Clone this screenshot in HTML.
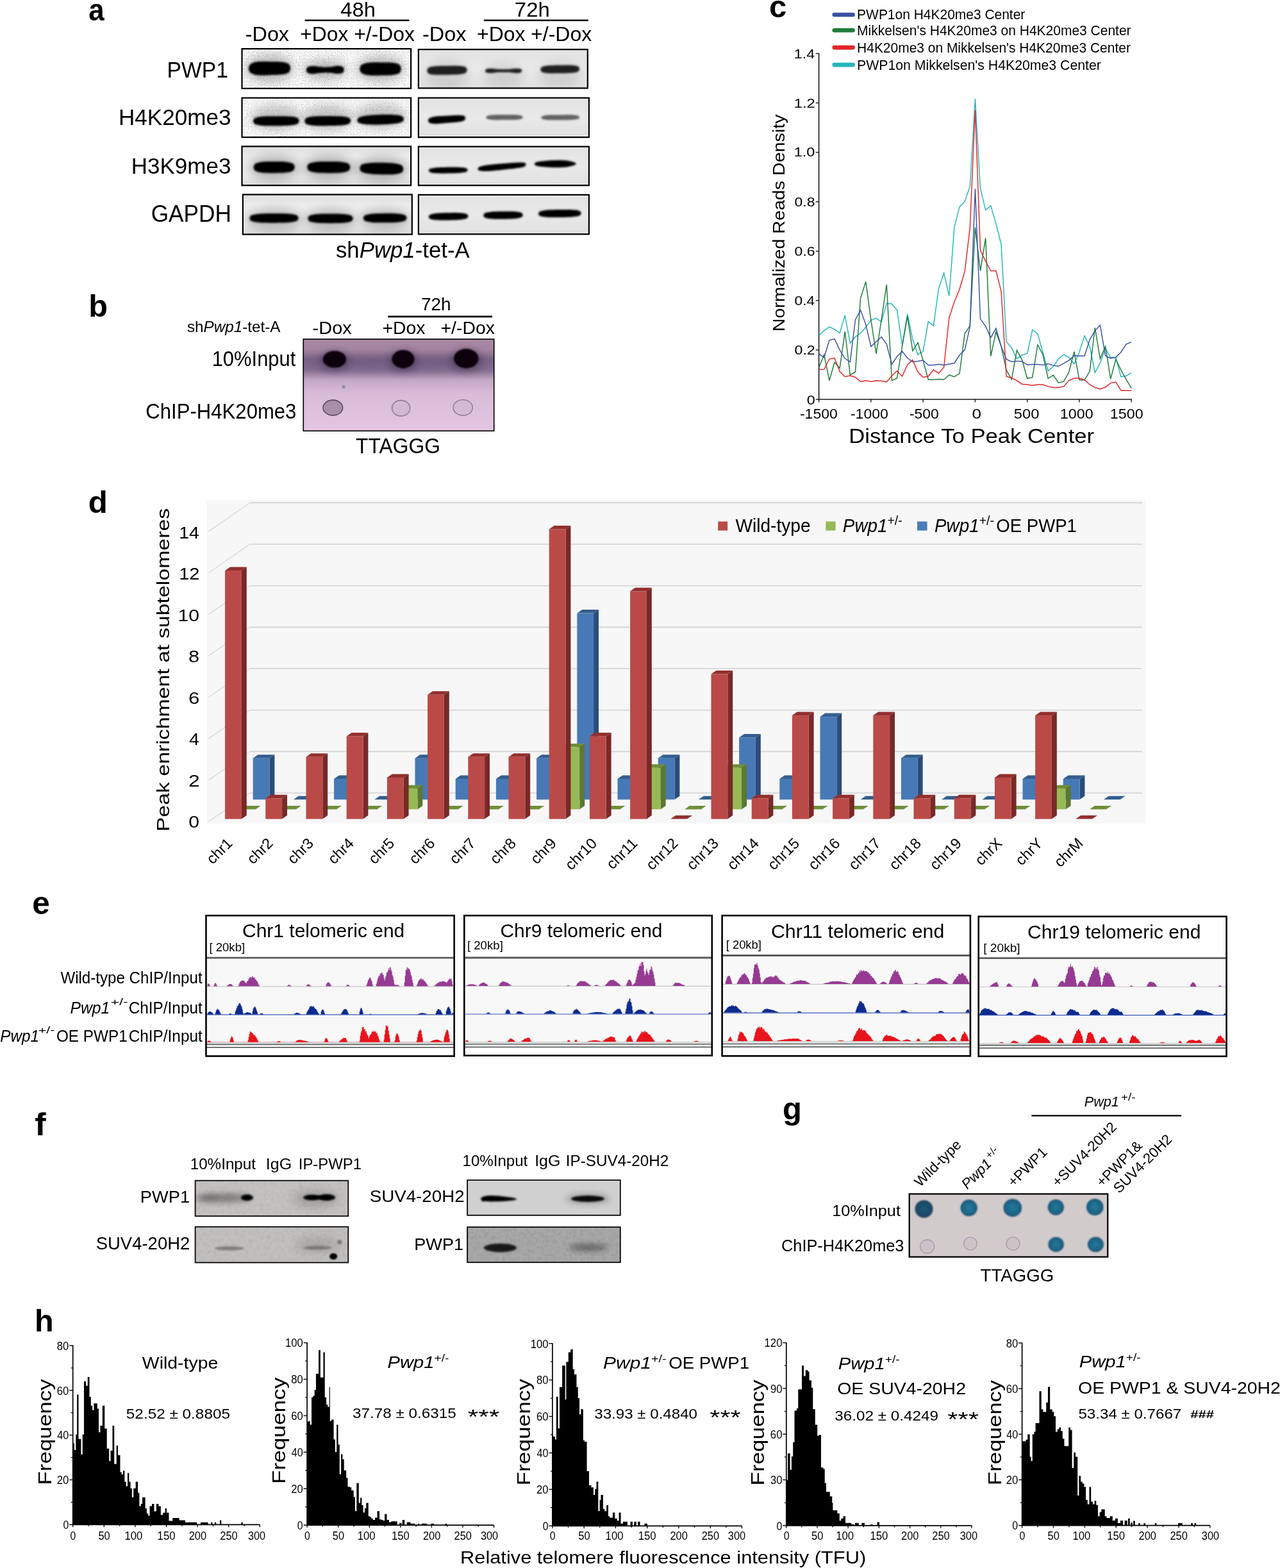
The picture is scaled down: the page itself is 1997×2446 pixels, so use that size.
<!DOCTYPE html><html><head><meta charset="utf-8"><title>Figure</title><style>html,body{margin:0;padding:0;background:#fff;}body{width:1997px;height:2446px;overflow:hidden;}svg{display:block;}</style></head><body><svg width="1997" height="2446" viewBox="0 0 1997 2446" font-family="'Liberation Sans', sans-serif"><defs><filter id="bl" x="-30%" y="-100%" width="160%" height="300%"><feGaussianBlur stdDeviation="1.6"/></filter><filter id="bl4" x="-30%" y="-100%" width="160%" height="300%"><feGaussianBlur stdDeviation="5"/></filter><filter id="bl8" x="-50%" y="-100%" width="200%" height="300%"><feGaussianBlur stdDeviation="8"/></filter><linearGradient id="gA3" x1="0" y1="0" x2="0" y2="1"><stop offset="0" stop-color="#dcdcdc"/><stop offset="0.25" stop-color="#ececec"/><stop offset="0.75" stop-color="#ececec"/><stop offset="1" stop-color="#dadada"/></linearGradient><linearGradient id="gR" x1="0" y1="0" x2="0" y2="1"><stop offset="0" stop-color="#e2e2e2"/><stop offset="0.5" stop-color="#e9e9e9"/><stop offset="1" stop-color="#e0e0e0"/></linearGradient><filter id="speck" x="0" y="0" width="100%" height="100%"><feTurbulence type="fractalNoise" baseFrequency="0.8" numOctaves="1" seed="7" result="n"/><feColorMatrix in="n" type="matrix" values="0 0 0 0 0  0 0 0 0 0  0 0 0 0 0  0 0 0 -12 5.3"/><feComposite in2="SourceGraphic" operator="in"/></filter><clipPath id="cpA"><rect x="376.4" y="75" width="265.8" height="64.1" fill="none"/><rect x="376.4" y="151.6" width="265.8" height="63.6" fill="none"/><rect x="376.4" y="227.3" width="265.8" height="63" fill="none"/><rect x="377.8" y="302.4" width="266.1" height="64.3" fill="none"/><rect x="651.8" y="76" width="266.1" height="62.6" fill="none"/><rect x="651.8" y="151.6" width="268.2" height="63.6" fill="none"/><rect x="651.8" y="227.6" width="268.2" height="62.7" fill="none"/><rect x="651.8" y="302.8" width="268.2" height="63.6" fill="none"/></clipPath><linearGradient id="gB" x1="0" y1="0" x2="0" y2="1"><stop offset="0" stop-color="#a98aa5"/><stop offset="0.12" stop-color="#a3839f"/><stop offset="0.22" stop-color="#7d6689"/><stop offset="0.34" stop-color="#8a7294"/><stop offset="0.45" stop-color="#c5a8c6"/><stop offset="0.6" stop-color="#d8bcd8"/><stop offset="1" stop-color="#e3c6e2"/></linearGradient><filter id="bl1"><feGaussianBlur stdDeviation="1"/></filter><filter id="bl05"><feGaussianBlur stdDeviation="0.5"/></filter><clipPath id="cpB"><rect x="472.5" y="528.3" width="299" height="144.7" fill="none"/></clipPath><filter id="noiseF" x="0" y="0" width="100%" height="100%"><feTurbulence type="fractalNoise" baseFrequency="0.18" numOctaves="2" seed="3" result="n"/><feColorMatrix in="n" type="matrix" values="0 0 0 0 0  0 0 0 0 0  0 0 0 0 0  0 0 0 -0.9 0.55"/><feComposite in2="SourceGraphic" operator="in"/></filter><clipPath id="cpF"><rect x="303.8" y="1840.8" width="240.3" height="57.1" fill="none"/><rect x="303.8" y="1912.9" width="240.3" height="57.5" fill="none"/><rect x="728.3" y="1840" width="240.3" height="56.6" fill="none"/><rect x="728.3" y="1913.4" width="240.3" height="56.7" fill="none"/></clipPath><radialGradient id="gT"><stop offset="0" stop-color="#23779a"/><stop offset="0.75" stop-color="#1d6687"/><stop offset="1" stop-color="#244e6e"/></radialGradient><radialGradient id="gT1"><stop offset="0" stop-color="#1d5676"/><stop offset="0.8" stop-color="#1a4a66"/><stop offset="1" stop-color="#253e5a"/></radialGradient></defs><text x="138.28" y="31.92" font-size="48.36" textLength="24.43" lengthAdjust="spacingAndGlyphs" font-weight="bold">a</text>
<text x="531.34" y="25.88" font-size="31.56" textLength="54.7" lengthAdjust="spacingAndGlyphs">48h</text>
<text x="802.85" y="25.8" font-size="31.45" textLength="54.9" lengthAdjust="spacingAndGlyphs">72h</text>
<line x1="475.6" y1="31.8" x2="638.6" y2="31.8" stroke="#000" stroke-width="2.5"/>
<line x1="754.9" y1="31.8" x2="917.8" y2="31.8" stroke="#000" stroke-width="2.5"/>
<text x="382.74" y="64" font-size="32.03" textLength="68.33" lengthAdjust="spacingAndGlyphs">-Dox</text>
<text x="468.31" y="64" font-size="32.03" textLength="74.98" lengthAdjust="spacingAndGlyphs">+Dox</text>
<text x="552.2" y="64" font-size="32.03" textLength="94.86" lengthAdjust="spacingAndGlyphs">+/-Dox</text>
<text x="658.94" y="64" font-size="32.03" textLength="68.63" lengthAdjust="spacingAndGlyphs">-Dox</text>
<text x="744" y="64" font-size="32.03" textLength="75.49" lengthAdjust="spacingAndGlyphs">+Dox</text>
<text x="828" y="64" font-size="32.03" textLength="95.37" lengthAdjust="spacingAndGlyphs">+/-Dox</text>
<text x="260.61" y="121.3" font-size="35.22" textLength="95.38" lengthAdjust="spacingAndGlyphs">PWP1</text>
<text x="185" y="195.1" font-size="35.94" textLength="175.42" lengthAdjust="spacingAndGlyphs">H4K20me3</text>
<text x="204.8" y="271.3" font-size="35.94" textLength="155.57" lengthAdjust="spacingAndGlyphs">H3K9me3</text>
<text x="235.64" y="346.4" font-size="36.67" textLength="125.33" lengthAdjust="spacingAndGlyphs">GAPDH</text>
<g transform="translate(523.95,401.8) scale(0.98,1)"><text x="0" y="0" font-size="35.51">sh</text><text x="37.5" y="0" font-size="35.51" font-style="italic">Pwp1</text><text x="126.33" y="0" font-size="35.51">-tet-A</text></g>
<rect x="376.4" y="75" width="265.8" height="64.1" fill="#fbfbfb"/>
<rect x="376.4" y="151.6" width="265.8" height="63.6" fill="#fbfbfb"/>
<rect x="376.4" y="75" width="265.8" height="64.1" fill="#000" filter="url(#speck)" opacity="0.17"/>
<rect x="376.4" y="151.6" width="265.8" height="63.6" fill="#000" filter="url(#speck)" opacity="0.14"/>
<rect x="376.4" y="227.3" width="265.8" height="63" fill="url(#gA3)"/>
<rect x="377.8" y="302.4" width="266.1" height="64.3" fill="url(#gA3)"/>
<rect x="651.8" y="76" width="266.1" height="62.6" fill="url(#gR)"/>
<rect x="651.8" y="151.6" width="268.2" height="63.6" fill="url(#gR)"/>
<rect x="651.8" y="227.6" width="268.2" height="62.7" fill="url(#gR)"/>
<rect x="651.8" y="302.8" width="268.2" height="63.6" fill="url(#gR)"/>
<g clip-path="url(#cpA)">
<ellipse cx="420.45" cy="106.65" rx="37.78" ry="22.5" fill="#000" opacity="0.22" filter="url(#bl8)"/>
<ellipse cx="507.25" cy="108.8" rx="34.21" ry="16.4" fill="#000" opacity="0.22" filter="url(#bl8)"/>
<ellipse cx="593.5" cy="107.45" rx="37.38" ry="20.9" fill="#000" opacity="0.22" filter="url(#bl8)"/>
<ellipse cx="430.8" cy="183.75" rx="39.82" ry="20.15" fill="#000" opacity="0.2" filter="url(#bl8)"/>
<ellipse cx="511.25" cy="183.75" rx="39.88" ry="20.15" fill="#000" opacity="0.2" filter="url(#bl8)"/>
<ellipse cx="593.7" cy="181.5" rx="40.37" ry="19.5" fill="#000" opacity="0.2" filter="url(#bl8)"/>
<ellipse cx="427.7" cy="261.9" rx="38.76" ry="20.02" fill="#000" opacity="0.22" filter="url(#bl8)"/>
<ellipse cx="512.8" cy="261.9" rx="40.56" ry="20.02" fill="#000" opacity="0.22" filter="url(#bl8)"/>
<ellipse cx="595.3" cy="264" rx="41.16" ry="19.8" fill="#000" opacity="0.22" filter="url(#bl8)"/>
<ellipse cx="427.5" cy="343.35" rx="44.27" ry="17.64" fill="#000" opacity="0.2" filter="url(#bl8)"/>
<ellipse cx="515.5" cy="343.35" rx="40.82" ry="17.64" fill="#000" opacity="0.2" filter="url(#bl8)"/>
<ellipse cx="600.6" cy="343" rx="39.22" ry="16.8" fill="#000" opacity="0.2" filter="url(#bl8)"/>
<ellipse cx="697.5" cy="117.5" rx="33.08" ry="24" fill="#000" opacity="0.09" filter="url(#bl8)"/>
<ellipse cx="785.55" cy="118" rx="30.4" ry="19.2" fill="#000" opacity="0.09" filter="url(#bl8)"/>
<ellipse cx="873.7" cy="115.95" rx="32.23" ry="20.64" fill="#000" opacity="0.09" filter="url(#bl8)"/>
<polygon points="387.6,106.8 389.43,101.06 391.25,99.63 393.08,98.66 394.9,97.92 396.73,97.33 398.55,96.84 400.38,96.42 402.2,96.2 404.03,96.06 405.85,95.97 407.68,95.91 409.5,95.89 411.33,95.89 413.15,95.91 414.98,95.94 416.8,95.99 418.62,96.04 420.45,96.1 422.28,96.16 424.1,96.22 425.93,96.29 427.75,96.33 429.57,96.32 431.4,96.33 433.23,96.36 435.05,96.42 436.88,96.52 438.7,96.65 440.53,96.84 442.35,97.09 444.18,97.42 446,97.86 447.82,98.45 449.65,99.29 451.48,100.62 453.3,106.4 453.3,106.4 451.48,112.2 449.65,113.55 447.82,114.41 446,115.03 444.18,115.49 442.35,115.84 440.53,116.12 438.7,116.32 436.88,116.48 435.05,116.6 433.23,116.68 431.4,116.74 429.57,116.77 427.75,116.78 425.93,116.84 424.1,116.93 422.28,117.02 420.45,117.1 418.62,117.18 416.8,117.26 414.98,117.33 413.15,117.38 411.33,117.42 409.5,117.45 407.68,117.44 405.85,117.41 404.03,117.34 402.2,117.23 400.38,117.02 398.55,116.63 396.73,116.16 394.9,115.59 393.08,114.87 391.25,113.93 389.43,112.52 387.6,106.8" fill="#000" opacity="1" filter="url(#bl)"/>
<polygon points="477.5,109.2 479.15,105.18 480.81,104.28 482.46,103.73 484.11,103.36 485.76,103.09 487.42,102.91 489.07,103.01 490.72,103.16 492.38,103.36 494.03,103.59 495.68,103.85 497.33,104.13 498.99,104.22 500.64,104.31 502.29,104.42 503.94,104.52 505.6,104.64 507.25,104.75 508.9,104.66 510.56,104.56 512.21,104.47 513.86,104.39 515.51,104.31 517.17,104.24 518.82,103.9 520.47,103.58 522.12,103.28 523.78,103.02 525.43,102.8 527.08,102.64 528.74,102.73 530.39,102.91 532.04,103.21 533.69,103.7 535.35,104.58 537,108.8 537,108.8 535.35,113.04 533.69,113.94 532.04,114.46 530.39,114.78 528.74,114.98 527.08,115.09 525.43,114.95 523.78,114.76 522.12,114.52 520.47,114.25 518.82,113.94 517.17,113.62 515.51,113.58 513.86,113.52 512.21,113.46 510.56,113.39 508.9,113.32 507.25,113.25 505.6,113.39 503.94,113.52 502.29,113.65 500.64,113.78 498.99,113.9 497.33,114 495.68,114.3 494.03,114.58 492.38,114.84 490.72,115.06 489.07,115.24 487.42,115.36 485.76,115.2 484.11,114.95 482.46,114.6 480.81,114.07 479.15,113.19 477.5,109.2" fill="#000" opacity="1" filter="url(#bl)"/>
<polygon points="561,107.6 562.81,102.16 564.61,100.82 566.42,99.93 568.22,99.26 570.03,98.73 571.83,98.3 573.64,97.94 575.44,97.72 577.25,97.57 579.06,97.46 580.86,97.38 582.67,97.33 584.47,97.3 586.28,97.3 588.08,97.3 589.89,97.32 591.69,97.35 593.5,97.38 595.31,97.4 597.11,97.44 598.92,97.48 600.72,97.5 602.53,97.5 604.33,97.51 606.14,97.55 607.94,97.61 609.75,97.71 611.56,97.84 613.36,98.03 615.17,98.28 616.97,98.61 618.78,99.04 620.58,99.62 622.39,100.45 624.19,101.75 626,107.4 626,107.4 624.19,113.06 622.39,114.38 620.58,115.21 618.78,115.8 616.97,116.25 615.17,116.59 613.36,116.85 611.56,117.05 609.75,117.19 607.94,117.3 606.14,117.38 604.33,117.42 602.53,117.45 600.72,117.45 598.92,117.49 597.11,117.54 595.31,117.58 593.5,117.62 591.69,117.66 589.89,117.7 588.08,117.73 586.28,117.75 584.47,117.75 582.67,117.74 580.86,117.7 579.06,117.63 577.25,117.53 575.44,117.39 573.64,117.18 571.83,116.83 570.03,116.41 568.22,115.89 566.42,115.24 564.61,114.36 562.81,113.03 561,107.6" fill="#000" opacity="1" filter="url(#bl)"/>
<polygon points="394.6,188.9 396.61,184.82 398.62,183.83 400.63,183.18 402.64,182.7 404.66,182.32 406.67,182.01 408.68,181.76 410.69,181.56 412.7,181.39 414.71,181.3 416.72,181.24 418.73,181.2 420.74,181.17 422.76,181.16 424.77,181.16 426.78,181.17 428.79,181.18 430.8,181.2 432.81,181.19 434.82,181.18 436.83,181.18 438.84,181.18 440.86,181.2 442.87,181.23 444.88,181.27 446.89,181.34 448.9,181.43 450.91,181.52 452.92,181.65 454.93,181.82 456.94,182.05 458.96,182.36 460.97,182.79 462.98,183.38 464.99,184.34 467,188.5 467,188.5 464.99,192.68 462.98,193.66 460.97,194.28 458.96,194.72 456.94,195.06 454.93,195.31 452.92,195.51 450.91,195.66 448.9,195.77 446.89,195.88 444.88,195.97 442.87,196.04 440.86,196.09 438.84,196.13 436.83,196.16 434.82,196.17 432.81,196.19 430.8,196.2 428.79,196.24 426.78,196.27 424.77,196.3 422.76,196.33 420.74,196.34 418.73,196.34 416.72,196.32 414.71,196.28 412.7,196.21 410.69,196.06 408.68,195.88 406.67,195.65 404.66,195.37 402.64,195.01 400.63,194.55 398.62,193.92 396.61,192.95 394.6,188.9" fill="#000" opacity="1" filter="url(#bl)"/>
<polygon points="475,188.8 477.01,184.6 479.03,183.6 481.04,182.96 483.06,182.49 485.07,182.12 487.08,181.84 489.1,181.61 491.11,181.43 493.12,181.29 495.14,181.2 497.15,181.14 499.17,181.1 501.18,181.07 503.19,181.06 505.21,181.06 507.22,181.07 509.24,181.08 511.25,181.1 513.26,181.09 515.28,181.08 517.29,181.08 519.31,181.08 521.32,181.1 523.33,181.13 525.35,181.17 527.36,181.24 529.38,181.33 531.39,181.42 533.4,181.55 535.42,181.72 537.43,181.95 539.44,182.26 541.46,182.69 543.47,183.28 545.49,184.24 547.5,188.4 547.5,188.4 545.49,192.58 543.47,193.56 541.46,194.18 539.44,194.62 537.43,194.96 535.42,195.21 533.4,195.41 531.39,195.56 529.38,195.67 527.36,195.78 525.35,195.87 523.33,195.94 521.32,195.99 519.31,196.03 517.29,196.06 515.28,196.07 513.26,196.09 511.25,196.1 509.24,196.14 507.22,196.17 505.21,196.2 503.19,196.23 501.18,196.24 499.17,196.24 497.15,196.22 495.14,196.18 493.12,196.11 491.11,195.99 489.1,195.83 487.08,195.63 485.07,195.36 483.06,195.03 481.04,194.58 479.03,193.95 477.01,192.97 475,188.8" fill="#000" opacity="1" filter="url(#bl)"/>
<polygon points="557,187.6 559.04,183.73 561.08,182.74 563.12,182.06 565.16,181.53 567.19,181.11 569.23,180.74 571.27,180.43 573.31,180.16 575.35,179.93 577.39,179.74 579.43,179.58 581.47,179.44 583.51,179.32 585.54,179.21 587.58,179.11 589.62,179.02 591.66,178.93 593.7,178.85 595.74,178.82 597.78,178.8 599.82,178.78 601.86,178.77 603.89,178.77 605.93,178.78 607.97,178.81 610.01,178.85 612.05,178.93 614.09,179.03 616.13,179.16 618.17,179.34 620.21,179.57 622.24,179.87 624.28,180.27 626.32,180.83 628.36,181.72 630.4,185.6 630.4,185.6 628.36,189.59 626.32,190.59 624.28,191.26 622.24,191.78 620.21,192.19 618.17,192.53 616.13,192.82 614.09,193.06 612.05,193.27 610.01,193.46 607.97,193.62 605.93,193.76 603.89,193.88 601.86,193.99 599.82,194.09 597.78,194.18 595.74,194.27 593.7,194.35 591.66,194.38 589.62,194.4 587.58,194.42 585.54,194.43 583.51,194.43 581.47,194.42 579.43,194.39 577.39,194.35 575.35,194.27 573.31,194.15 571.27,193.99 569.23,193.79 567.19,193.54 565.16,193.22 563.12,192.81 561.08,192.24 559.04,191.36 557,187.6" fill="#000" opacity="1" filter="url(#bl)"/>
<polygon points="395.4,261 397.19,256.25 398.99,255.11 400.78,254.36 402.58,253.81 404.37,253.38 406.17,253.04 407.96,252.76 409.76,252.53 411.55,252.34 413.34,252.22 415.14,252.12 416.93,252.05 418.73,251.99 420.52,251.96 422.32,251.93 424.11,251.92 425.91,251.91 427.7,251.9 429.49,251.89 431.29,251.89 433.08,251.9 434.88,251.91 436.67,251.94 438.47,251.98 440.26,252.04 442.06,252.13 443.85,252.24 445.64,252.42 447.44,252.63 449.23,252.9 451.03,253.23 452.82,253.65 454.62,254.19 456.41,254.93 458.21,256.06 460,260.8 460,260.8 458.21,265.55 456.41,266.69 454.62,267.44 452.82,267.99 451.03,268.42 449.23,268.76 447.44,269.04 445.64,269.27 443.85,269.46 442.06,269.58 440.26,269.68 438.47,269.75 436.67,269.81 434.88,269.84 433.08,269.87 431.29,269.88 429.49,269.89 427.7,269.9 425.91,269.91 424.11,269.91 422.32,269.9 420.52,269.89 418.73,269.86 416.93,269.82 415.14,269.76 413.34,269.67 411.55,269.56 409.76,269.38 407.96,269.17 406.17,268.9 404.37,268.57 402.58,268.15 400.78,267.61 398.99,266.87 397.19,265.74 395.4,261" fill="#000" opacity="1" filter="url(#bl)"/>
<polygon points="479,260.8 480.88,256.06 482.76,254.93 484.63,254.19 486.51,253.65 488.39,253.23 490.27,252.9 492.14,252.63 494.02,252.42 495.9,252.24 497.78,252.13 499.66,252.04 501.53,251.98 503.41,251.94 505.29,251.91 507.17,251.9 509.04,251.89 510.92,251.89 512.8,251.9 514.68,251.91 516.56,251.92 518.43,251.93 520.31,251.96 522.19,251.99 524.07,252.05 525.94,252.12 527.82,252.22 529.7,252.34 531.58,252.53 533.46,252.76 535.33,253.04 537.21,253.38 539.09,253.81 540.97,254.36 542.84,255.11 544.72,256.25 546.6,261 546.6,261 544.72,265.74 542.84,266.87 540.97,267.61 539.09,268.15 537.21,268.57 535.33,268.9 533.46,269.17 531.58,269.38 529.7,269.56 527.82,269.67 525.94,269.76 524.07,269.82 522.19,269.86 520.31,269.89 518.43,269.9 516.56,269.91 514.68,269.91 512.8,269.9 510.92,269.89 509.04,269.88 507.17,269.87 505.29,269.84 503.41,269.81 501.53,269.75 499.66,269.68 497.78,269.58 495.9,269.46 494.02,269.27 492.14,269.04 490.27,268.76 488.39,268.42 486.51,267.99 484.63,267.44 482.76,266.69 480.88,265.55 479,260.8" fill="#000" opacity="1" filter="url(#bl)"/>
<polygon points="561,262.4 562.91,257.69 564.81,256.59 566.72,255.88 568.62,255.36 570.53,254.97 572.43,254.67 574.34,254.43 576.24,254.24 578.15,254.09 580.06,253.98 581.96,253.89 583.87,253.83 585.77,253.79 587.68,253.76 589.58,253.75 591.49,253.74 593.39,253.74 595.3,253.75 597.21,253.78 599.11,253.82 601.02,253.86 602.92,253.92 604.83,253.98 606.73,254.07 608.64,254.17 610.54,254.3 612.45,254.45 614.36,254.67 616.26,254.93 618.17,255.25 620.07,255.63 621.98,256.1 623.88,256.69 625.79,257.49 627.69,258.69 629.6,263.6 629.6,263.6 627.69,268.44 625.79,269.58 623.88,270.31 621.98,270.84 620.07,271.24 618.17,271.55 616.26,271.8 614.36,272 612.45,272.15 610.54,272.24 608.64,272.3 606.73,272.33 604.83,272.35 602.92,272.35 601.02,272.34 599.11,272.31 597.21,272.28 595.3,272.25 593.39,272.19 591.49,272.12 589.58,272.05 587.68,271.97 585.77,271.88 583.87,271.77 581.96,271.64 580.06,271.49 578.15,271.31 576.24,271.09 574.34,270.84 572.43,270.53 570.53,270.16 568.62,269.7 566.72,269.12 564.81,268.35 562.91,267.17 561,262.4" fill="#000" opacity="1" filter="url(#bl)"/>
<polygon points="389,340.4 391.14,336.47 393.28,335.53 395.42,334.92 397.56,334.48 399.69,334.13 401.83,333.86 403.97,333.64 406.11,333.46 408.25,333.32 410.39,333.22 412.53,333.14 414.67,333.08 416.81,333.03 418.94,333 421.08,332.98 423.22,332.96 425.36,332.96 427.5,332.95 429.64,332.94 431.78,332.94 433.92,332.94 436.06,332.95 438.19,332.98 440.33,333.01 442.47,333.06 444.61,333.13 446.75,333.22 448.89,333.35 451.03,333.52 453.17,333.73 455.31,333.99 457.44,334.32 459.58,334.76 461.72,335.36 463.86,336.28 466,340.2 466,340.2 463.86,344.13 461.72,345.07 459.58,345.68 457.44,346.12 455.31,346.47 453.17,346.74 451.03,346.96 448.89,347.14 446.75,347.28 444.61,347.38 442.47,347.46 440.33,347.52 438.19,347.57 436.06,347.6 433.92,347.62 431.78,347.64 429.64,347.64 427.5,347.65 425.36,347.66 423.22,347.66 421.08,347.66 418.94,347.65 416.81,347.62 414.67,347.59 412.53,347.54 410.39,347.47 408.25,347.38 406.11,347.25 403.97,347.08 401.83,346.87 399.69,346.61 397.56,346.28 395.42,345.84 393.28,345.24 391.14,344.32 389,340.4" fill="#000" opacity="1" filter="url(#bl)"/>
<polygon points="480,340.8 481.97,336.88 483.94,335.94 485.92,335.34 487.89,334.9 489.86,334.56 491.83,334.29 493.81,334.08 495.78,333.91 497.75,333.77 499.72,333.67 501.69,333.6 503.67,333.54 505.64,333.5 507.61,333.48 509.58,333.46 511.56,333.45 513.53,333.45 515.5,333.45 517.47,333.45 519.44,333.45 521.42,333.46 523.39,333.48 525.36,333.5 527.33,333.54 529.31,333.6 531.28,333.67 533.25,333.77 535.22,333.91 537.19,334.08 539.17,334.29 541.14,334.56 543.11,334.9 545.08,335.34 547.06,335.94 549.03,336.88 551,340.8 551,340.8 549.03,344.72 547.06,345.66 545.08,346.26 543.11,346.7 541.14,347.04 539.17,347.31 537.19,347.52 535.22,347.69 533.25,347.83 531.28,347.93 529.31,348 527.33,348.06 525.36,348.1 523.39,348.12 521.42,348.14 519.44,348.15 517.47,348.15 515.5,348.15 513.53,348.15 511.56,348.15 509.58,348.14 507.61,348.12 505.64,348.1 503.67,348.06 501.69,348 499.72,347.93 497.75,347.83 495.78,347.69 493.81,347.52 491.83,347.31 489.86,347.04 487.89,346.7 485.92,346.26 483.94,345.66 481.97,344.72 480,340.8" fill="#000" opacity="1" filter="url(#bl)"/>
<polygon points="566.5,340.3 568.39,336.49 570.29,335.57 572.18,334.96 574.08,334.5 575.97,334.15 577.87,333.86 579.76,333.62 581.66,333.43 583.55,333.27 585.44,333.16 587.34,333.07 589.23,333.01 591.13,332.96 593.02,332.92 594.92,332.89 596.81,332.88 598.71,332.86 600.6,332.85 602.49,332.84 604.39,332.83 606.28,332.83 608.18,332.83 610.07,332.85 611.97,332.87 613.86,332.92 615.76,332.98 617.65,333.07 619.54,333.21 621.44,333.38 623.33,333.59 625.23,333.86 627.12,334.19 629.02,334.62 630.91,335.21 632.81,336.12 634.7,339.9 634.7,339.9 632.81,343.71 630.91,344.63 629.02,345.24 627.12,345.7 625.23,346.05 623.33,346.34 621.44,346.58 619.54,346.77 617.65,346.93 615.76,347.04 613.86,347.13 611.97,347.19 610.07,347.24 608.18,347.28 606.28,347.31 604.39,347.32 602.49,347.34 600.6,347.35 598.71,347.36 596.81,347.37 594.92,347.37 593.02,347.37 591.13,347.35 589.23,347.33 587.34,347.28 585.44,347.22 583.55,347.13 581.66,346.99 579.76,346.82 577.87,346.61 575.97,346.34 574.08,346.01 572.18,345.58 570.29,344.99 568.39,344.08 566.5,340.3" fill="#000" opacity="1" filter="url(#bl)"/>
<polygon points="666,110.2 667.75,106.02 669.5,105.06 671.25,104.46 673,104.04 674.75,103.74 676.5,103.51 678.25,103.34 680,103.19 681.75,103.08 683.5,102.99 685.25,102.92 687,102.87 688.75,102.84 690.5,102.82 692.25,102.79 694,102.76 695.75,102.73 697.5,102.7 699.25,102.67 701,102.65 702.75,102.63 704.5,102.6 706.25,102.56 708,102.54 709.75,102.53 711.5,102.54 713.25,102.58 715,102.64 716.75,102.74 718.5,102.88 720.25,103.08 722,103.36 723.75,103.74 725.5,104.29 727.25,105.2 729,109.2 729,109.2 727.25,113.26 725.5,114.22 723.75,114.83 722,115.27 720.25,115.6 718.5,115.85 716.75,116.05 715,116.21 713.25,116.32 711.5,116.41 709.75,116.48 708,116.53 706.25,116.56 704.5,116.58 702.75,116.61 701,116.64 699.25,116.67 697.5,116.7 695.75,116.73 694,116.75 692.25,116.77 690.5,116.8 688.75,116.84 687,116.86 685.25,116.87 683.5,116.86 681.75,116.82 680,116.76 678.25,116.67 676.5,116.56 674.75,116.38 673,116.13 671.25,115.77 669.5,115.23 667.75,114.32 666,110.2" fill="#141414" opacity="0.95" filter="url(#bl)"/>
<polygon points="756.6,110.4 758.21,107.9 759.82,107.4 761.43,107.12 763.03,106.96 764.64,106.88 766.25,106.84 767.86,106.96 769.47,107.11 771.08,107.29 772.68,107.49 774.29,107.71 775.9,107.93 777.51,107.96 779.12,107.99 780.73,108.03 782.33,108.07 783.94,108.11 785.55,108.15 787.16,108.11 788.77,108.07 790.38,108.03 791.98,107.99 793.59,107.96 795.2,107.93 796.81,107.71 798.42,107.49 800.02,107.29 801.63,107.11 803.24,106.96 804.85,106.84 806.46,106.84 808.07,106.89 809.67,107.03 811.28,107.28 812.89,107.79 814.5,110.4 814.5,110.4 812.89,113.01 811.28,113.52 809.67,113.77 808.07,113.91 806.46,113.96 804.85,113.96 803.24,113.84 801.63,113.69 800.02,113.51 798.42,113.31 796.81,113.09 795.2,112.87 793.59,112.84 791.98,112.81 790.38,112.77 788.77,112.73 787.16,112.69 785.55,112.65 783.94,112.69 782.33,112.73 780.73,112.77 779.12,112.81 777.51,112.84 775.9,112.87 774.29,113.09 772.68,113.31 771.08,113.51 769.47,113.69 767.86,113.84 766.25,113.96 764.64,113.92 763.03,113.84 761.43,113.68 759.82,113.4 758.21,112.9 756.6,110.4" fill="#141414" opacity="0.95" filter="url(#bl)"/>
<polygon points="843,108.4 844.71,104.75 846.41,103.89 848.12,103.35 849.82,102.96 851.53,102.67 853.23,102.45 854.94,102.28 856.64,102.14 858.35,102.04 860.06,101.97 861.76,101.91 863.47,101.88 865.17,101.86 866.88,101.85 868.58,101.83 870.29,101.8 871.99,101.77 873.7,101.75 875.41,101.73 877.11,101.71 878.82,101.69 880.52,101.67 882.23,101.64 883.93,101.61 885.64,101.6 887.34,101.61 889.05,101.64 890.76,101.7 892.46,101.79 894.17,101.91 895.87,102.09 897.58,102.34 899.28,102.68 900.99,103.18 902.69,104 904.4,107.6 904.4,107.6 902.69,111.25 900.99,112.11 899.28,112.65 897.58,113.04 895.87,113.33 894.17,113.55 892.46,113.72 890.76,113.86 889.05,113.96 887.34,114.03 885.64,114.09 883.93,114.12 882.23,114.14 880.52,114.15 878.82,114.17 877.11,114.2 875.41,114.23 873.7,114.25 871.99,114.27 870.29,114.29 868.58,114.31 866.88,114.33 865.17,114.36 863.47,114.39 861.76,114.4 860.06,114.39 858.35,114.36 856.64,114.3 854.94,114.21 853.23,114.09 851.53,113.91 849.82,113.66 848.12,113.32 846.41,112.82 844.71,112 843,108.4" fill="#141414" opacity="0.95" filter="url(#bl)"/>
<polygon points="667.6,188.2 669.23,184.83 670.87,183.93 672.5,183.29 674.13,182.79 675.77,182.37 677.4,182.01 679.03,181.7 680.67,181.49 682.3,181.34 683.93,181.22 685.57,181.11 687.2,181.02 688.83,180.95 690.47,180.89 692.1,180.81 693.73,180.73 695.37,180.65 697,180.57 698.63,180.5 700.27,180.42 701.9,180.35 703.53,180.26 705.17,180.14 706.8,180.02 708.43,179.92 710.07,179.83 711.7,179.76 713.33,179.71 714.97,179.7 716.6,179.72 718.23,179.78 719.87,179.9 721.5,180.11 723.13,180.46 724.77,181.09 726.4,184.2 726.4,184.2 724.77,187.53 723.13,188.38 721.5,188.95 719.87,189.39 718.23,189.73 716.6,190.02 714.97,190.26 713.33,190.46 711.7,190.64 710.07,190.79 708.43,190.93 706.8,191.05 705.17,191.15 703.53,191.25 701.9,191.38 700.27,191.53 698.63,191.68 697,191.82 695.37,191.97 693.73,192.11 692.1,192.25 690.47,192.4 688.83,192.56 687.2,192.71 685.57,192.84 683.93,192.96 682.3,193.06 680.67,193.13 679.03,193.15 677.4,193.06 675.77,192.92 674.13,192.72 672.5,192.44 670.87,192.03 669.23,191.35 667.6,188.2" fill="#000" opacity="1" filter="url(#bl)"/>
<polygon points="758,183.2 759.61,181.02 761.22,180.47 762.83,180.11 764.44,179.83 766.06,179.61 767.67,179.42 769.28,179.27 770.89,179.19 772.5,179.14 774.11,179.12 775.72,179.1 777.33,179.1 778.94,179.11 780.56,179.12 782.17,179.12 783.78,179.11 785.39,179.11 787,179.1 788.61,179.09 790.22,179.09 791.83,179.09 793.44,179.08 795.06,179.05 796.67,179.03 798.28,179.03 799.89,179.03 801.5,179.04 803.11,179.08 804.72,179.15 806.33,179.29 807.94,179.46 809.56,179.67 811.17,179.94 812.78,180.29 814.39,180.83 816,183 816,183 814.39,185.18 812.78,185.73 811.17,186.09 809.56,186.37 807.94,186.59 806.33,186.78 804.72,186.93 803.11,187.01 801.5,187.06 799.89,187.08 798.28,187.1 796.67,187.1 795.06,187.09 793.44,187.08 791.83,187.08 790.22,187.09 788.61,187.09 787,187.1 785.39,187.11 783.78,187.11 782.17,187.11 780.56,187.12 778.94,187.15 777.33,187.17 775.72,187.17 774.11,187.17 772.5,187.16 770.89,187.12 769.28,187.05 767.67,186.91 766.06,186.74 764.44,186.53 762.83,186.26 761.22,185.91 759.61,185.37 758,183.2" fill="#2a2a2a" opacity="0.7" filter="url(#bl)"/>
<polygon points="844,183.4 845.68,181.21 847.36,180.66 849.03,180.29 850.71,180.01 852.39,179.78 854.07,179.59 855.74,179.43 857.42,179.35 859.1,179.29 860.78,179.26 862.46,179.24 864.13,179.23 865.81,179.24 867.49,179.25 869.17,179.24 870.84,179.22 872.52,179.21 874.2,179.2 875.88,179.19 877.56,179.18 879.23,179.17 880.91,179.16 882.59,179.12 884.27,179.1 885.94,179.09 887.62,179.08 889.3,179.09 890.98,179.12 892.66,179.19 894.33,179.32 896.01,179.49 897.69,179.7 899.37,179.96 901.04,180.31 902.72,180.83 904.4,183 904.4,183 902.72,185.19 901.04,185.74 899.37,186.11 897.69,186.39 896.01,186.62 894.33,186.81 892.66,186.97 890.98,187.05 889.3,187.11 887.62,187.14 885.94,187.16 884.27,187.17 882.59,187.16 880.91,187.15 879.23,187.16 877.56,187.18 875.88,187.19 874.2,187.2 872.52,187.21 870.84,187.22 869.17,187.23 867.49,187.24 865.81,187.28 864.13,187.3 862.46,187.31 860.78,187.32 859.1,187.31 857.42,187.28 855.74,187.21 854.07,187.08 852.39,186.91 850.71,186.7 849.03,186.44 847.36,186.09 845.68,185.57 844,183.4" fill="#2a2a2a" opacity="0.7" filter="url(#bl)"/>
<polygon points="668.5,266 670.21,263.53 671.92,262.9 673.62,262.48 675.33,262.16 677.04,261.9 678.75,261.68 680.46,261.49 682.17,261.36 683.88,261.26 685.58,261.17 687.29,261.1 689,261.04 690.71,261 692.42,260.96 694.12,260.92 695.83,260.9 697.54,260.87 699.25,260.85 700.96,260.83 702.67,260.81 704.38,260.79 706.08,260.78 707.79,260.77 709.5,260.78 711.21,260.79 712.92,260.82 714.62,260.86 716.33,260.92 718.04,261 719.75,261.15 721.46,261.32 723.17,261.54 724.88,261.82 726.58,262.19 728.29,262.77 730,265.2 730,265.2 728.29,267.67 726.58,268.3 724.88,268.72 723.17,269.04 721.46,269.3 719.75,269.52 718.04,269.71 716.33,269.84 714.62,269.94 712.92,270.03 711.21,270.1 709.5,270.16 707.79,270.2 706.08,270.24 704.38,270.28 702.67,270.3 700.96,270.33 699.25,270.35 697.54,270.37 695.83,270.39 694.12,270.41 692.42,270.42 690.71,270.43 689,270.42 687.29,270.41 685.58,270.38 683.88,270.34 682.17,270.28 680.46,270.2 678.75,270.05 677.04,269.88 675.33,269.66 673.62,269.38 671.92,269.01 670.21,268.43 668.5,266" fill="#000" opacity="1" filter="url(#bl)"/>
<polygon points="745,263.6 747.11,260.69 749.22,259.83 751.33,259.19 753.44,258.66 755.56,258.21 757.67,257.8 759.78,257.43 761.89,257.14 764,256.89 766.11,256.66 768.22,256.45 770.33,256.25 772.44,256.06 774.56,255.88 776.67,255.71 778.78,255.55 780.89,255.39 783,255.23 785.11,255.07 787.22,254.91 789.33,254.75 791.44,254.59 793.56,254.41 795.67,254.24 797.78,254.08 799.89,253.94 802,253.81 804.11,253.69 806.22,253.59 808.33,253.47 810.44,253.38 812.56,253.36 814.67,253.4 816.78,253.58 818.89,254 821,256.6 821,256.6 818.89,259.59 816.78,260.4 814.67,260.96 812.56,261.4 810.44,261.76 808.33,262.07 806.22,262.33 804.11,262.62 802,262.89 799.89,263.15 797.78,263.39 795.67,263.62 793.56,263.84 791.44,264.05 789.33,264.28 787.22,264.51 785.11,264.75 783,264.98 780.89,265.2 778.78,265.43 776.67,265.65 774.56,265.87 772.44,266.08 770.33,266.29 768.22,266.48 766.11,266.65 764,266.81 761.89,266.95 759.78,267.05 757.67,267.07 755.56,267.05 753.44,266.98 751.33,266.84 749.22,266.6 747.11,266.12 745,263.6" fill="#000" opacity="1" filter="url(#bl)"/>
<polygon points="833.5,255.8 835.32,253.46 837.14,252.85 838.96,252.42 840.78,252.09 842.6,251.82 844.42,251.58 846.24,251.38 848.06,251.17 849.88,250.98 851.69,250.8 853.51,250.63 855.33,250.48 857.15,250.34 858.97,250.21 860.79,250.12 862.61,250.07 864.43,250.02 866.25,249.98 868.07,249.93 869.89,249.89 871.71,249.85 873.53,249.85 875.35,249.93 877.17,250.02 878.99,250.12 880.81,250.23 882.62,250.36 884.44,250.51 886.26,250.72 888.08,251.13 889.9,251.56 891.72,252.01 893.54,252.48 895.36,253 897.18,253.62 899,255.4 899,255.4 897.18,257.2 895.36,257.84 893.54,258.39 891.72,258.88 889.9,259.35 888.08,259.8 886.26,260.24 884.44,260.47 882.62,260.64 880.81,260.79 878.99,260.93 877.17,261.05 875.35,261.16 873.53,261.26 871.71,261.29 869.89,261.27 868.07,261.25 866.25,261.23 864.43,261.2 862.61,261.18 860.79,261.15 858.97,261.08 857.15,260.97 855.33,260.85 853.51,260.72 851.69,260.58 849.88,260.42 848.06,260.25 846.24,260.07 844.42,259.88 842.6,259.67 840.78,259.42 838.96,259.11 837.14,258.71 835.32,258.12 833.5,255.8" fill="#000" opacity="1" filter="url(#bl)"/>
<polygon points="668.5,338.2 670.23,335.19 671.96,334.44 673.68,333.93 675.41,333.55 677.14,333.24 678.87,332.99 680.59,332.78 682.32,332.6 684.05,332.45 685.78,332.35 687.51,332.26 689.23,332.19 690.96,332.13 692.69,332.08 694.42,332.04 696.14,332.01 697.87,331.98 699.6,331.95 701.33,331.92 703.06,331.9 704.78,331.88 706.51,331.86 708.24,331.85 709.97,331.86 711.69,331.87 713.42,331.9 715.15,331.95 716.88,332.05 718.61,332.17 720.33,332.33 722.06,332.52 723.79,332.77 725.52,333.1 727.24,333.55 728.97,334.24 730.7,337.2 730.7,337.2 728.97,340.21 727.24,340.96 725.52,341.47 723.79,341.85 722.06,342.16 720.33,342.41 718.61,342.62 716.88,342.8 715.15,342.95 713.42,343.05 711.69,343.14 709.97,343.21 708.24,343.27 706.51,343.32 704.78,343.36 703.06,343.39 701.33,343.42 699.6,343.45 697.87,343.48 696.14,343.5 694.42,343.52 692.69,343.54 690.96,343.55 689.23,343.54 687.51,343.53 685.78,343.5 684.05,343.45 682.32,343.35 680.59,343.23 678.87,343.07 677.14,342.88 675.41,342.63 673.68,342.3 671.96,341.85 670.23,341.16 668.5,338.2" fill="#000" opacity="1" filter="url(#bl)"/>
<polygon points="754,336 755.72,332.86 757.44,332.09 759.17,331.58 760.89,331.19 762.61,330.89 764.33,330.64 766.06,330.43 767.78,330.26 769.5,330.11 771.22,330.01 772.94,329.94 774.67,329.88 776.39,329.83 778.11,329.79 779.83,329.76 781.56,329.74 783.28,329.72 785,329.7 786.72,329.68 788.44,329.67 790.17,329.66 791.89,329.66 793.61,329.66 795.33,329.68 797.06,329.7 798.78,329.75 800.5,329.81 802.22,329.92 803.94,330.06 805.67,330.24 807.39,330.45 809.11,330.72 810.83,331.08 812.56,331.56 814.28,332.3 816,335.4 816,335.4 814.28,338.54 812.56,339.31 810.83,339.82 809.11,340.21 807.39,340.51 805.67,340.76 803.94,340.97 802.22,341.14 800.5,341.29 798.78,341.39 797.06,341.46 795.33,341.52 793.61,341.57 791.89,341.61 790.17,341.64 788.44,341.66 786.72,341.68 785,341.7 783.28,341.72 781.56,341.73 779.83,341.74 778.11,341.74 776.39,341.74 774.67,341.72 772.94,341.7 771.22,341.65 769.5,341.59 767.78,341.48 766.06,341.34 764.33,341.16 762.61,340.95 760.89,340.68 759.17,340.32 757.44,339.84 755.72,339.1 754,336" fill="#000" opacity="1" filter="url(#bl)"/>
<polygon points="839.6,333.4 841.47,330.26 843.34,329.48 845.22,328.96 847.09,328.57 848.96,328.26 850.83,328 852.71,327.79 854.58,327.61 856.45,327.46 858.32,327.36 860.19,327.28 862.07,327.21 863.94,327.15 865.81,327.11 867.68,327.08 869.56,327.05 871.43,327.02 873.3,327 875.17,326.98 877.04,326.96 878.92,326.94 880.79,326.93 882.66,326.93 884.53,326.94 886.41,326.96 888.28,327 890.15,327.06 892.02,327.14 893.89,327.25 895.77,327.4 897.64,327.59 899.51,327.83 901.38,328.17 903.26,328.64 905.13,329.38 907,332.6 907,332.6 905.13,335.86 903.26,336.65 901.38,337.16 899.51,337.54 897.64,337.84 895.77,338.07 893.89,338.26 892.02,338.41 890.15,338.54 888.28,338.64 886.41,338.72 884.53,338.79 882.66,338.85 880.79,338.89 878.92,338.92 877.04,338.95 875.17,338.98 873.3,339 871.43,339.02 869.56,339.04 867.68,339.06 865.81,339.07 863.94,339.07 862.07,339.06 860.19,339.04 858.32,339 856.45,338.94 854.58,338.83 852.71,338.7 850.83,338.53 848.96,338.32 847.09,338.05 845.22,337.71 843.34,337.23 841.47,336.5 839.6,333.4" fill="#000" opacity="1" filter="url(#bl)"/>
</g>
<rect x="377.5" y="76.1" width="263.6" height="61.9" fill="none" stroke="#000" stroke-width="2.2"/>
<rect x="377.5" y="152.7" width="263.6" height="61.4" fill="none" stroke="#000" stroke-width="2.2"/>
<rect x="377.5" y="228.4" width="263.6" height="60.8" fill="none" stroke="#000" stroke-width="2.2"/>
<rect x="378.9" y="303.5" width="263.9" height="62.1" fill="none" stroke="#000" stroke-width="2.2"/>
<rect x="652.9" y="77.1" width="263.9" height="60.4" fill="none" stroke="#000" stroke-width="2.2"/>
<rect x="652.9" y="152.7" width="266" height="61.4" fill="none" stroke="#000" stroke-width="2.2"/>
<rect x="652.9" y="228.7" width="266" height="60.5" fill="none" stroke="#000" stroke-width="2.2"/>
<rect x="652.9" y="303.9" width="266" height="61.4" fill="none" stroke="#000" stroke-width="2.2"/>
<text x="138.23" y="494.31" font-size="48.57" textLength="29.76" lengthAdjust="spacingAndGlyphs" font-weight="bold">b</text>
<g transform="translate(291.88,517.9) scale(0.99,1)"><text x="0" y="0" font-size="24.49">sh</text><text x="25.87" y="0" font-size="24.49" font-style="italic">Pwp1</text><text x="87.14" y="0" font-size="24.49">-tet-A</text></g>
<text x="487.59" y="520.6" font-size="28.26" textLength="61.24" lengthAdjust="spacingAndGlyphs">-Dox</text>
<text x="596.48" y="520.6" font-size="28.26" textLength="67.07" lengthAdjust="spacingAndGlyphs">+Dox</text>
<text x="687.48" y="520.6" font-size="28.26" textLength="84.56" lengthAdjust="spacingAndGlyphs">+/-Dox</text>
<text x="656.91" y="483.8" font-size="27.03" textLength="46.5" lengthAdjust="spacingAndGlyphs">72h</text>
<line x1="605.3" y1="493.9" x2="768" y2="493.9" stroke="#000" stroke-width="2.8"/>
<text x="330.68" y="571.4" font-size="32.61" textLength="130.69" lengthAdjust="spacingAndGlyphs">10%Input</text>
<text x="227.35" y="652.6" font-size="33.33" textLength="235.08" lengthAdjust="spacingAndGlyphs">ChIP-H4K20me3</text>
<text x="555.06" y="707.3" font-size="33.33" textLength="131.96" lengthAdjust="spacingAndGlyphs">TTAGGG</text>
<g clip-path="url(#cpB)">
<rect x="472.5" y="528.3" width="299" height="144.7" fill="url(#gB)"/>
<ellipse cx="622" cy="568" rx="160" ry="12" fill="#4a3a66" opacity="0.25" filter="url(#bl8)"/>
<ellipse cx="521.95" cy="563.4" rx="24.25" ry="17.1" fill="#2a1a2e" opacity="0.3" filter="url(#bl4)"/>
<ellipse cx="521.95" cy="560.4" rx="18.25" ry="13.1" fill="#0e060e" filter="url(#bl1)"/>
<ellipse cx="629" cy="563.2" rx="23.5" ry="18.2" fill="#2a1a2e" opacity="0.3" filter="url(#bl4)"/>
<ellipse cx="629" cy="560.2" rx="17.5" ry="14.2" fill="#0e060e" filter="url(#bl1)"/>
<ellipse cx="727.3" cy="562.2" rx="25.3" ry="19.2" fill="#2a1a2e" opacity="0.3" filter="url(#bl4)"/>
<ellipse cx="727.3" cy="559.2" rx="19.3" ry="15.2" fill="#0e060e" filter="url(#bl1)"/>
<ellipse cx="519.35" cy="636" rx="15.35" ry="12" fill="#a88ea8" stroke="#4a3a52" stroke-width="1.3" filter="url(#bl05)"/>
<ellipse cx="625.6" cy="636.75" rx="14.1" ry="12.25" fill="#d2b8d2" stroke="#8a7090" stroke-width="1.3" filter="url(#bl05)"/>
<ellipse cx="722.2" cy="635.85" rx="15.2" ry="12.15" fill="#d4bad4" stroke="#8a7090" stroke-width="1.3" filter="url(#bl05)"/>
<circle cx="536" cy="603.5" r="2.2" fill="#4a5a8a" opacity="0.7" filter="url(#bl1)"/>
</g>
<rect x="473.3" y="529.1" width="297.4" height="143.1" fill="none" stroke="#000" stroke-width="1.6"/>
<text x="1200.14" y="26.53" font-size="47.27" textLength="27.29" lengthAdjust="spacingAndGlyphs" font-weight="bold">c</text>
<line x1="1301.8" y1="23" x2="1330.6" y2="23" stroke="#3b50a3" stroke-width="6.6" stroke-linecap="round"/>
<text x="1337.12" y="30.4" font-size="21.45" textLength="262.23" lengthAdjust="spacingAndGlyphs">PWP1on H4K20me3 Center</text>
<line x1="1301.8" y1="47.2" x2="1330.6" y2="47.2" stroke="#1e7b3b" stroke-width="6.6" stroke-linecap="round"/>
<text x="1337.12" y="55.3" font-size="21.45" textLength="427.46" lengthAdjust="spacingAndGlyphs">Mikkelsen's H4K20me3 on H4K20me3 Center</text>
<line x1="1301.8" y1="74.1" x2="1330.6" y2="74.1" stroke="#e2262b" stroke-width="6.6" stroke-linecap="round"/>
<text x="1337.12" y="82.3" font-size="21.45" textLength="426.76" lengthAdjust="spacingAndGlyphs">H4K20me3 on Mikkelsen's H4K20me3 Center</text>
<line x1="1301.8" y1="101.1" x2="1330.6" y2="101.1" stroke="#27b6ba" stroke-width="6.6" stroke-linecap="round"/>
<text x="1337.1" y="108.9" font-size="21.45" textLength="380.75" lengthAdjust="spacingAndGlyphs">PWP1on Mikkelsen's H4K20me3 Center</text>
<line x1="1277.6" y1="83.2" x2="1277.6" y2="623.7" stroke="#1a1a1a" stroke-width="1.6"/>
<line x1="1276.8" y1="623" x2="1765.9" y2="623" stroke="#1a1a1a" stroke-width="1.6"/>
<line x1="1272.7" y1="83.5" x2="1277.6" y2="83.5" stroke="#1a1a1a" stroke-width="1.4"/>
<text x="1238.74" y="90.5" font-size="20.29" textLength="32.56" lengthAdjust="spacingAndGlyphs">1.4</text>
<line x1="1272.7" y1="160.57" x2="1277.6" y2="160.57" stroke="#1a1a1a" stroke-width="1.4"/>
<text x="1238.72" y="167.57" font-size="20" textLength="33.08" lengthAdjust="spacingAndGlyphs">1.2</text>
<line x1="1272.7" y1="237.64" x2="1277.6" y2="237.64" stroke="#1a1a1a" stroke-width="1.4"/>
<text x="1238.74" y="244.45" font-size="19.72" textLength="32.69" lengthAdjust="spacingAndGlyphs">1.0</text>
<line x1="1272.7" y1="314.71" x2="1277.6" y2="314.71" stroke="#1a1a1a" stroke-width="1.4"/>
<text x="1239.58" y="321.52" font-size="19.72" textLength="31.94" lengthAdjust="spacingAndGlyphs">0.8</text>
<line x1="1272.7" y1="391.79" x2="1277.6" y2="391.79" stroke="#1a1a1a" stroke-width="1.4"/>
<text x="1239.58" y="398.59" font-size="19.72" textLength="31.94" lengthAdjust="spacingAndGlyphs">0.6</text>
<line x1="1272.7" y1="468.86" x2="1277.6" y2="468.86" stroke="#1a1a1a" stroke-width="1.4"/>
<text x="1239.59" y="475.66" font-size="19.72" textLength="31.7" lengthAdjust="spacingAndGlyphs">0.4</text>
<line x1="1272.7" y1="545.93" x2="1277.6" y2="545.93" stroke="#1a1a1a" stroke-width="1.4"/>
<text x="1239.57" y="552.73" font-size="19.72" textLength="32.19" lengthAdjust="spacingAndGlyphs">0.2</text>
<line x1="1272.7" y1="623" x2="1277.6" y2="623" stroke="#1a1a1a" stroke-width="1.4"/>
<text x="1258.67" y="630.8" font-size="19.72" textLength="12.98" lengthAdjust="spacingAndGlyphs">0</text>
<line x1="1277.6" y1="623" x2="1277.6" y2="627.5" stroke="#1a1a1a" stroke-width="1.4"/>
<line x1="1358.87" y1="623" x2="1358.87" y2="627.5" stroke="#1a1a1a" stroke-width="1.4"/>
<line x1="1440.13" y1="623" x2="1440.13" y2="627.5" stroke="#1a1a1a" stroke-width="1.4"/>
<line x1="1521.4" y1="623" x2="1521.4" y2="627.5" stroke="#1a1a1a" stroke-width="1.4"/>
<line x1="1602.67" y1="623" x2="1602.67" y2="627.5" stroke="#1a1a1a" stroke-width="1.4"/>
<line x1="1683.93" y1="623" x2="1683.93" y2="627.5" stroke="#1a1a1a" stroke-width="1.4"/>
<line x1="1765.2" y1="623" x2="1765.2" y2="627.5" stroke="#1a1a1a" stroke-width="1.4"/>
<text x="1247.96" y="652.77" font-size="22.68" textLength="58.91" lengthAdjust="spacingAndGlyphs">-1500</text>
<text x="1326.96" y="652.77" font-size="22.68" textLength="58.91" lengthAdjust="spacingAndGlyphs">-1000</text>
<text x="1418.97" y="652.77" font-size="22.68" textLength="45.87" lengthAdjust="spacingAndGlyphs">-500</text>
<text x="1516.46" y="652.77" font-size="22.68" textLength="14.48" lengthAdjust="spacingAndGlyphs">0</text>
<text x="1581.85" y="652.77" font-size="22.68" textLength="39.46" lengthAdjust="spacingAndGlyphs">500</text>
<text x="1653.86" y="652.77" font-size="22.68" textLength="51.75" lengthAdjust="spacingAndGlyphs">1000</text>
<text x="1731.86" y="652.77" font-size="22.68" textLength="51.75" lengthAdjust="spacingAndGlyphs">1500</text>
<text x="1324.23" y="691.4" font-size="32.17" textLength="382.91" lengthAdjust="spacingAndGlyphs">Distance To Peak Center</text>
<g transform="translate(1224.22,515) rotate(-90)"><text x="-2.29" y="0" font-size="25.13" textLength="338.74" lengthAdjust="spacingAndGlyphs">Normalized Reads Density</text></g>
<polyline points="1277.6,523.34 1285.73,515.85 1293.85,509.86 1301.98,513.6 1310.11,519.6 1318.23,491.89 1326.36,535.32 1334.49,525.59 1342.61,519.6 1350.74,510.61 1358.87,499.38 1366.99,496.38 1375.12,502.07 1383.25,473.17 1391.37,473.92 1399.5,483.65 1407.63,538.32 1415.75,489.64 1423.88,529.33 1432.01,553.29 1440.13,548.05 1448.26,501.62 1456.39,508.36 1464.51,449.95 1472.64,425.99 1480.77,461.68 1488.89,354.58 1497.02,322.62 1505.15,314.62 1513.27,290.65 1521.4,153.98 1529.53,294.64 1537.65,327.41 1545.78,321.02 1553.91,348.99 1562.03,380.96 1570.16,533.06 1578.29,542.74 1586.41,559.68 1594.54,554.03 1602.67,551.61 1610.79,514.52 1618.92,520.65 1627.05,550 1635.17,578.71 1643.3,571.77 1651.43,559.68 1659.55,553.23 1667.68,557.26 1675.81,567.74 1683.93,549.19 1692.06,523.87 1700.19,540.32 1708.31,581.45 1716.44,566.13 1724.57,543.55 1732.69,557.26 1740.82,558.06 1748.95,587.9 1757.07,586.29 1765.2,581.94" fill="none" stroke="#27b6ba" stroke-width="1.45" stroke-linejoin="miter"/>
<polyline points="1277.6,573.51 1285.73,553.29 1293.85,593.73 1301.98,565.27 1310.11,574.26 1318.23,517.35 1326.36,584.74 1334.49,580.25 1342.61,464.93 1350.74,439.47 1358.87,499.38 1366.99,551.8 1375.12,498.63 1383.25,443.96 1391.37,593.73 1399.5,589.99 1407.63,539.81 1415.75,493.39 1423.88,547.3 1432.01,534.57 1440.13,562.28 1448.26,592.23 1456.39,592.23 1464.51,591.48 1472.64,592.23 1480.77,584.74 1488.89,587.74 1497.02,582.5 1505.15,520.34 1513.27,508.36 1521.4,354.58 1529.53,422.52 1537.65,371.37 1545.78,555.65 1553.91,517.74 1562.03,540.32 1570.16,577.42 1578.29,591.94 1586.41,546.45 1594.54,561.29 1602.67,590.32 1610.79,588.71 1618.92,537.9 1627.05,553.23 1635.17,590.32 1643.3,585.16 1651.43,597.1 1659.55,595.16 1667.68,580.65 1675.81,548.39 1683.93,592.74 1692.06,592.74 1700.19,579.03 1708.31,511.29 1716.44,559.68 1724.57,540.32 1732.69,591.13 1740.82,560.48 1748.95,577.42 1757.07,591.94 1765.2,605.65" fill="none" stroke="#1e7b3b" stroke-width="1.45" stroke-linejoin="miter"/>
<polyline points="1277.6,576.51 1285.73,576.21 1293.85,560.03 1301.98,558.54 1310.11,579.5 1318.23,587.44 1326.36,585.94 1334.49,588.49 1342.61,595.23 1350.74,593.73 1358.87,595.23 1366.99,593.73 1375.12,594.18 1383.25,595.98 1391.37,586.24 1399.5,578.75 1407.63,586.99 1415.75,569.02 1423.88,561.53 1432.01,580.25 1440.13,588.49 1448.26,586.99 1456.39,576.96 1464.51,582.2 1472.64,572.76 1480.77,495.63 1488.89,470.92 1497.02,451.29 1505.15,423.32 1513.27,356.18 1521.4,171.56 1529.53,390.55 1537.65,407.33 1545.78,422.52 1553.91,422.52 1562.03,454.49 1570.16,587.1 1578.29,589.52 1586.41,593.55 1594.54,599.19 1602.67,600 1610.79,601.29 1618.92,600 1627.05,600 1635.17,602.9 1643.3,604.52 1651.43,604.52 1659.55,602.9 1667.68,593.55 1675.81,590 1683.93,590 1692.06,592.74 1700.19,600 1708.31,604.52 1716.44,606.94 1724.57,604.03 1732.69,597.58 1740.82,595.97 1748.95,609.19 1757.07,609.19 1765.2,609.19" fill="none" stroke="#e2262b" stroke-width="1.45" stroke-linejoin="miter"/>
<polyline points="1277.6,551.8 1285.73,557.79 1293.85,530.83 1301.98,528.58 1310.11,545.81 1318.23,559.28 1326.36,564.53 1334.49,498.63 1342.61,483.65 1350.74,506.12 1358.87,540.56 1366.99,533.07 1375.12,525.59 1383.25,536.82 1391.37,568.27 1399.5,556.29 1407.63,548.05 1415.75,558.54 1423.88,564.53 1432.01,563.48 1440.13,561.98 1448.26,569.47 1456.39,569.47 1464.51,568.27 1472.64,569.47 1480.77,567.97 1488.89,566.47 1497.02,554.04 1505.15,545.81 1513.27,509.86 1521.4,294.64 1529.53,497.58 1537.65,508.87 1545.78,526.61 1553.91,512.1 1562.03,540.32 1570.16,560.48 1578.29,564.19 1586.41,563.39 1594.54,563.71 1602.67,569.03 1610.79,568.55 1618.92,568.55 1627.05,569.35 1635.17,567.42 1643.3,570.16 1651.43,571.29 1659.55,566.94 1667.68,562.1 1675.81,554.84 1683.93,555.16 1692.06,555.16 1700.19,529.84 1708.31,516.13 1716.44,507.26 1724.57,554.84 1732.69,558.87 1740.82,557.26 1748.95,549.19 1757.07,536.77 1765.2,533.55" fill="none" stroke="#3b50a3" stroke-width="1.45" stroke-linejoin="miter"/>
<text x="137.83" y="800.42" font-size="48.16" textLength="30.12" lengthAdjust="spacingAndGlyphs" font-weight="bold">d</text>
<rect x="322.7" y="780.3" width="1464.5" height="504.3" fill="#f7f7f7"/>
<line x1="389.8" y1="1237" x2="1782.2" y2="1237" stroke="#d2d2d2" stroke-width="1.6"/>
<line x1="389.8" y1="1237" x2="325.5" y2="1281.6" stroke="#d4d4d4" stroke-width="1.1"/>
<line x1="389.8" y1="1172.34" x2="1782.2" y2="1172.34" stroke="#d2d2d2" stroke-width="1.6"/>
<line x1="389.8" y1="1172.34" x2="325.5" y2="1216.94" stroke="#d4d4d4" stroke-width="1.1"/>
<line x1="389.8" y1="1107.68" x2="1782.2" y2="1107.68" stroke="#d2d2d2" stroke-width="1.6"/>
<line x1="389.8" y1="1107.68" x2="325.5" y2="1152.28" stroke="#d4d4d4" stroke-width="1.1"/>
<line x1="389.8" y1="1043.02" x2="1782.2" y2="1043.02" stroke="#d2d2d2" stroke-width="1.6"/>
<line x1="389.8" y1="1043.02" x2="325.5" y2="1087.62" stroke="#d4d4d4" stroke-width="1.1"/>
<line x1="389.8" y1="978.36" x2="1782.2" y2="978.36" stroke="#d2d2d2" stroke-width="1.6"/>
<line x1="389.8" y1="978.36" x2="325.5" y2="1022.96" stroke="#d4d4d4" stroke-width="1.1"/>
<line x1="389.8" y1="913.7" x2="1782.2" y2="913.7" stroke="#d2d2d2" stroke-width="1.6"/>
<line x1="389.8" y1="913.7" x2="325.5" y2="958.3" stroke="#d4d4d4" stroke-width="1.1"/>
<line x1="389.8" y1="849.04" x2="1782.2" y2="849.04" stroke="#d2d2d2" stroke-width="1.6"/>
<line x1="389.8" y1="849.04" x2="325.5" y2="893.64" stroke="#d4d4d4" stroke-width="1.1"/>
<line x1="389.8" y1="784.38" x2="1782.2" y2="784.38" stroke="#d2d2d2" stroke-width="1.6"/>
<line x1="389.8" y1="784.38" x2="325.5" y2="828.98" stroke="#d4d4d4" stroke-width="1.1"/>
<polygon points="394.7,1182.7 420.5,1182.7 428.4,1177.2 402.6,1177.2" fill="#345e8e"/><polygon points="420.5,1182.7 428.4,1177.2 428.4,1241.8 420.5,1247.3" fill="#2b4c7b"/><rect x="394.7" y="1182.7" width="25.8" height="64.6" fill="#4779b6"/>
<polygon points="457.9,1247.3 483.7,1247.3 491.6,1241.8 465.8,1241.8" fill="#345e8e"/>
<polygon points="521.1,1215 546.9,1215 554.8,1209.5 529,1209.5" fill="#345e8e"/><polygon points="546.9,1215 554.8,1209.5 554.8,1241.8 546.9,1247.3" fill="#2b4c7b"/><rect x="521.1" y="1215" width="25.8" height="32.3" fill="#4779b6"/>
<polygon points="584.3,1247.3 610.1,1247.3 618,1241.8 592.2,1241.8" fill="#345e8e"/>
<polygon points="647.5,1182.7 673.3,1182.7 681.2,1177.2 655.4,1177.2" fill="#345e8e"/><polygon points="673.3,1182.7 681.2,1177.2 681.2,1241.8 673.3,1247.3" fill="#2b4c7b"/><rect x="647.5" y="1182.7" width="25.8" height="64.6" fill="#4779b6"/>
<polygon points="710.7,1215 736.5,1215 744.4,1209.5 718.6,1209.5" fill="#345e8e"/><polygon points="736.5,1215 744.4,1209.5 744.4,1241.8 736.5,1247.3" fill="#2b4c7b"/><rect x="710.7" y="1215" width="25.8" height="32.3" fill="#4779b6"/>
<polygon points="773.9,1215 799.7,1215 807.6,1209.5 781.8,1209.5" fill="#345e8e"/><polygon points="799.7,1215 807.6,1209.5 807.6,1241.8 799.7,1247.3" fill="#2b4c7b"/><rect x="773.9" y="1215" width="25.8" height="32.3" fill="#4779b6"/>
<polygon points="837.1,1182.7 862.9,1182.7 870.8,1177.2 845,1177.2" fill="#345e8e"/><polygon points="862.9,1182.7 870.8,1177.2 870.8,1241.8 862.9,1247.3" fill="#2b4c7b"/><rect x="837.1" y="1182.7" width="25.8" height="64.6" fill="#4779b6"/>
<polygon points="900.3,956.6 926.1,956.6 934,951.1 908.2,951.1" fill="#345e8e"/><polygon points="926.1,956.6 934,951.1 934,1241.8 926.1,1247.3" fill="#2b4c7b"/><rect x="900.3" y="956.6" width="25.8" height="290.7" fill="#4779b6"/>
<polygon points="963.5,1215 989.3,1215 997.2,1209.5 971.4,1209.5" fill="#345e8e"/><polygon points="989.3,1215 997.2,1209.5 997.2,1241.8 989.3,1247.3" fill="#2b4c7b"/><rect x="963.5" y="1215" width="25.8" height="32.3" fill="#4779b6"/>
<polygon points="1026.7,1182.7 1052.5,1182.7 1060.4,1177.2 1034.6,1177.2" fill="#345e8e"/><polygon points="1052.5,1182.7 1060.4,1177.2 1060.4,1241.8 1052.5,1247.3" fill="#2b4c7b"/><rect x="1026.7" y="1182.7" width="25.8" height="64.6" fill="#4779b6"/>
<polygon points="1089.9,1247.3 1115.7,1247.3 1123.6,1241.8 1097.8,1241.8" fill="#345e8e"/>
<polygon points="1153.1,1150.4 1178.9,1150.4 1186.8,1144.9 1161,1144.9" fill="#345e8e"/><polygon points="1178.9,1150.4 1186.8,1144.9 1186.8,1241.8 1178.9,1247.3" fill="#2b4c7b"/><rect x="1153.1" y="1150.4" width="25.8" height="96.9" fill="#4779b6"/>
<polygon points="1216.3,1215 1242.1,1215 1250,1209.5 1224.2,1209.5" fill="#345e8e"/><polygon points="1242.1,1215 1250,1209.5 1250,1241.8 1242.1,1247.3" fill="#2b4c7b"/><rect x="1216.3" y="1215" width="25.8" height="32.3" fill="#4779b6"/>
<polygon points="1279.5,1118.1 1305.3,1118.1 1313.2,1112.6 1287.4,1112.6" fill="#345e8e"/><polygon points="1305.3,1118.1 1313.2,1112.6 1313.2,1241.8 1305.3,1247.3" fill="#2b4c7b"/><rect x="1279.5" y="1118.1" width="25.8" height="129.2" fill="#4779b6"/>
<polygon points="1342.7,1247.3 1368.5,1247.3 1376.4,1241.8 1350.6,1241.8" fill="#345e8e"/>
<polygon points="1405.9,1182.7 1431.7,1182.7 1439.6,1177.2 1413.8,1177.2" fill="#345e8e"/><polygon points="1431.7,1182.7 1439.6,1177.2 1439.6,1241.8 1431.7,1247.3" fill="#2b4c7b"/><rect x="1405.9" y="1182.7" width="25.8" height="64.6" fill="#4779b6"/>
<polygon points="1469.1,1247.3 1494.9,1247.3 1502.8,1241.8 1477,1241.8" fill="#345e8e"/>
<polygon points="1532.3,1247.3 1558.1,1247.3 1566,1241.8 1540.2,1241.8" fill="#345e8e"/>
<polygon points="1595.5,1215 1621.3,1215 1629.2,1209.5 1603.4,1209.5" fill="#345e8e"/><polygon points="1621.3,1215 1629.2,1209.5 1629.2,1241.8 1621.3,1247.3" fill="#2b4c7b"/><rect x="1595.5" y="1215" width="25.8" height="32.3" fill="#4779b6"/>
<polygon points="1658.7,1215 1684.5,1215 1692.4,1209.5 1666.6,1209.5" fill="#345e8e"/><polygon points="1684.5,1215 1692.4,1209.5 1692.4,1241.8 1684.5,1247.3" fill="#2b4c7b"/><rect x="1658.7" y="1215" width="25.8" height="32.3" fill="#4779b6"/>
<polygon points="1721.9,1247.3 1747.7,1247.3 1755.6,1241.8 1729.8,1241.8" fill="#345e8e"/>
<polygon points="372.9,1262.45 398.7,1262.45 406.6,1256.95 380.8,1256.95" fill="#6f8e38"/>
<polygon points="436.1,1262.45 461.9,1262.45 469.8,1256.95 444,1256.95" fill="#6f8e38"/>
<polygon points="499.3,1262.45 525.1,1262.45 533,1256.95 507.2,1256.95" fill="#6f8e38"/>
<polygon points="562.5,1262.45 588.3,1262.45 596.2,1256.95 570.4,1256.95" fill="#6f8e38"/>
<polygon points="625.7,1230.15 651.5,1230.15 659.4,1224.65 633.6,1224.65" fill="#6f8e38"/><polygon points="651.5,1230.15 659.4,1224.65 659.4,1256.95 651.5,1262.45" fill="#5d7832"/><rect x="625.7" y="1230.15" width="25.8" height="32.3" fill="#97b955"/>
<polygon points="688.9,1262.45 714.7,1262.45 722.6,1256.95 696.8,1256.95" fill="#6f8e38"/>
<polygon points="752.1,1262.45 777.9,1262.45 785.8,1256.95 760,1256.95" fill="#6f8e38"/>
<polygon points="815.3,1262.45 841.1,1262.45 849,1256.95 823.2,1256.95" fill="#6f8e38"/>
<polygon points="878.5,1165.55 904.3,1165.55 912.2,1160.05 886.4,1160.05" fill="#6f8e38"/><polygon points="904.3,1165.55 912.2,1160.05 912.2,1256.95 904.3,1262.45" fill="#5d7832"/><rect x="878.5" y="1165.55" width="25.8" height="96.9" fill="#97b955"/>
<polygon points="941.7,1262.45 967.5,1262.45 975.4,1256.95 949.6,1256.95" fill="#6f8e38"/>
<polygon points="1004.9,1197.85 1030.7,1197.85 1038.6,1192.35 1012.8,1192.35" fill="#6f8e38"/><polygon points="1030.7,1197.85 1038.6,1192.35 1038.6,1256.95 1030.7,1262.45" fill="#5d7832"/><rect x="1004.9" y="1197.85" width="25.8" height="64.6" fill="#97b955"/>
<polygon points="1068.1,1262.45 1093.9,1262.45 1101.8,1256.95 1076,1256.95" fill="#6f8e38"/>
<polygon points="1131.3,1197.85 1157.1,1197.85 1165,1192.35 1139.2,1192.35" fill="#6f8e38"/><polygon points="1157.1,1197.85 1165,1192.35 1165,1256.95 1157.1,1262.45" fill="#5d7832"/><rect x="1131.3" y="1197.85" width="25.8" height="64.6" fill="#97b955"/>
<polygon points="1194.5,1262.45 1220.3,1262.45 1228.2,1256.95 1202.4,1256.95" fill="#6f8e38"/>
<polygon points="1257.7,1262.45 1283.5,1262.45 1291.4,1256.95 1265.6,1256.95" fill="#6f8e38"/>
<polygon points="1320.9,1262.45 1346.7,1262.45 1354.6,1256.95 1328.8,1256.95" fill="#6f8e38"/>
<polygon points="1384.1,1262.45 1409.9,1262.45 1417.8,1256.95 1392,1256.95" fill="#6f8e38"/>
<polygon points="1447.3,1262.45 1473.1,1262.45 1481,1256.95 1455.2,1256.95" fill="#6f8e38"/>
<polygon points="1510.5,1262.45 1536.3,1262.45 1544.2,1256.95 1518.4,1256.95" fill="#6f8e38"/>
<polygon points="1573.7,1262.45 1599.5,1262.45 1607.4,1256.95 1581.6,1256.95" fill="#6f8e38"/>
<polygon points="1636.9,1230.15 1662.7,1230.15 1670.6,1224.65 1644.8,1224.65" fill="#6f8e38"/><polygon points="1662.7,1230.15 1670.6,1224.65 1670.6,1256.95 1662.7,1262.45" fill="#5d7832"/><rect x="1636.9" y="1230.15" width="25.8" height="32.3" fill="#97b955"/>
<polygon points="1700.1,1262.45 1725.9,1262.45 1733.8,1256.95 1708,1256.95" fill="#6f8e38"/>
<polygon points="351.1,890 376.9,890 384.8,884.5 359,884.5" fill="#92302f"/><polygon points="376.9,890 384.8,884.5 384.8,1272.1 376.9,1277.6" fill="#792828"/><rect x="351.1" y="890" width="25.8" height="387.6" fill="#ba4a48"/>
<polygon points="414.3,1245.3 440.1,1245.3 448,1239.8 422.2,1239.8" fill="#92302f"/><polygon points="440.1,1245.3 448,1239.8 448,1272.1 440.1,1277.6" fill="#792828"/><rect x="414.3" y="1245.3" width="25.8" height="32.3" fill="#ba4a48"/>
<polygon points="477.5,1180.7 503.3,1180.7 511.2,1175.2 485.4,1175.2" fill="#92302f"/><polygon points="503.3,1180.7 511.2,1175.2 511.2,1272.1 503.3,1277.6" fill="#792828"/><rect x="477.5" y="1180.7" width="25.8" height="96.9" fill="#ba4a48"/>
<polygon points="540.7,1148.4 566.5,1148.4 574.4,1142.9 548.6,1142.9" fill="#92302f"/><polygon points="566.5,1148.4 574.4,1142.9 574.4,1272.1 566.5,1277.6" fill="#792828"/><rect x="540.7" y="1148.4" width="25.8" height="129.2" fill="#ba4a48"/>
<polygon points="603.9,1213 629.7,1213 637.6,1207.5 611.8,1207.5" fill="#92302f"/><polygon points="629.7,1213 637.6,1207.5 637.6,1272.1 629.7,1277.6" fill="#792828"/><rect x="603.9" y="1213" width="25.8" height="64.6" fill="#ba4a48"/>
<polygon points="667.1,1083.8 692.9,1083.8 700.8,1078.3 675,1078.3" fill="#92302f"/><polygon points="692.9,1083.8 700.8,1078.3 700.8,1272.1 692.9,1277.6" fill="#792828"/><rect x="667.1" y="1083.8" width="25.8" height="193.8" fill="#ba4a48"/>
<polygon points="730.3,1180.7 756.1,1180.7 764,1175.2 738.2,1175.2" fill="#92302f"/><polygon points="756.1,1180.7 764,1175.2 764,1272.1 756.1,1277.6" fill="#792828"/><rect x="730.3" y="1180.7" width="25.8" height="96.9" fill="#ba4a48"/>
<polygon points="793.5,1180.7 819.3,1180.7 827.2,1175.2 801.4,1175.2" fill="#92302f"/><polygon points="819.3,1180.7 827.2,1175.2 827.2,1272.1 819.3,1277.6" fill="#792828"/><rect x="793.5" y="1180.7" width="25.8" height="96.9" fill="#ba4a48"/>
<polygon points="856.7,825.4 882.5,825.4 890.4,819.9 864.6,819.9" fill="#92302f"/><polygon points="882.5,825.4 890.4,819.9 890.4,1272.1 882.5,1277.6" fill="#792828"/><rect x="856.7" y="825.4" width="25.8" height="452.2" fill="#ba4a48"/>
<polygon points="919.9,1148.4 945.7,1148.4 953.6,1142.9 927.8,1142.9" fill="#92302f"/><polygon points="945.7,1148.4 953.6,1142.9 953.6,1272.1 945.7,1277.6" fill="#792828"/><rect x="919.9" y="1148.4" width="25.8" height="129.2" fill="#ba4a48"/>
<polygon points="983.1,922.3 1008.9,922.3 1016.8,916.8 991,916.8" fill="#92302f"/><polygon points="1008.9,922.3 1016.8,916.8 1016.8,1272.1 1008.9,1277.6" fill="#792828"/><rect x="983.1" y="922.3" width="25.8" height="355.3" fill="#ba4a48"/>
<polygon points="1046.3,1277.6 1072.1,1277.6 1080,1272.1 1054.2,1272.1" fill="#92302f"/>
<polygon points="1109.5,1051.5 1135.3,1051.5 1143.2,1046 1117.4,1046" fill="#92302f"/><polygon points="1135.3,1051.5 1143.2,1046 1143.2,1272.1 1135.3,1277.6" fill="#792828"/><rect x="1109.5" y="1051.5" width="25.8" height="226.1" fill="#ba4a48"/>
<polygon points="1172.7,1245.3 1198.5,1245.3 1206.4,1239.8 1180.6,1239.8" fill="#92302f"/><polygon points="1198.5,1245.3 1206.4,1239.8 1206.4,1272.1 1198.5,1277.6" fill="#792828"/><rect x="1172.7" y="1245.3" width="25.8" height="32.3" fill="#ba4a48"/>
<polygon points="1235.9,1116.1 1261.7,1116.1 1269.6,1110.6 1243.8,1110.6" fill="#92302f"/><polygon points="1261.7,1116.1 1269.6,1110.6 1269.6,1272.1 1261.7,1277.6" fill="#792828"/><rect x="1235.9" y="1116.1" width="25.8" height="161.5" fill="#ba4a48"/>
<polygon points="1299.1,1245.3 1324.9,1245.3 1332.8,1239.8 1307,1239.8" fill="#92302f"/><polygon points="1324.9,1245.3 1332.8,1239.8 1332.8,1272.1 1324.9,1277.6" fill="#792828"/><rect x="1299.1" y="1245.3" width="25.8" height="32.3" fill="#ba4a48"/>
<polygon points="1362.3,1116.1 1388.1,1116.1 1396,1110.6 1370.2,1110.6" fill="#92302f"/><polygon points="1388.1,1116.1 1396,1110.6 1396,1272.1 1388.1,1277.6" fill="#792828"/><rect x="1362.3" y="1116.1" width="25.8" height="161.5" fill="#ba4a48"/>
<polygon points="1425.5,1245.3 1451.3,1245.3 1459.2,1239.8 1433.4,1239.8" fill="#92302f"/><polygon points="1451.3,1245.3 1459.2,1239.8 1459.2,1272.1 1451.3,1277.6" fill="#792828"/><rect x="1425.5" y="1245.3" width="25.8" height="32.3" fill="#ba4a48"/>
<polygon points="1488.7,1245.3 1514.5,1245.3 1522.4,1239.8 1496.6,1239.8" fill="#92302f"/><polygon points="1514.5,1245.3 1522.4,1239.8 1522.4,1272.1 1514.5,1277.6" fill="#792828"/><rect x="1488.7" y="1245.3" width="25.8" height="32.3" fill="#ba4a48"/>
<polygon points="1551.9,1213 1577.7,1213 1585.6,1207.5 1559.8,1207.5" fill="#92302f"/><polygon points="1577.7,1213 1585.6,1207.5 1585.6,1272.1 1577.7,1277.6" fill="#792828"/><rect x="1551.9" y="1213" width="25.8" height="64.6" fill="#ba4a48"/>
<polygon points="1615.1,1116.1 1640.9,1116.1 1648.8,1110.6 1623,1110.6" fill="#92302f"/><polygon points="1640.9,1116.1 1648.8,1110.6 1648.8,1272.1 1640.9,1277.6" fill="#792828"/><rect x="1615.1" y="1116.1" width="25.8" height="161.5" fill="#ba4a48"/>
<polygon points="1678.3,1277.6 1704.1,1277.6 1712,1272.1 1686.2,1272.1" fill="#92302f"/>
<text x="279.27" y="839.7" font-size="25.36" textLength="31.65" lengthAdjust="spacingAndGlyphs">14</text>
<text x="279.22" y="904.23" font-size="25.36" textLength="32.3" lengthAdjust="spacingAndGlyphs">12</text>
<text x="277.54" y="968.76" font-size="25.36" textLength="33.59" lengthAdjust="spacingAndGlyphs">10</text>
<text x="294.11" y="1033.29" font-size="25.36" textLength="17.16" lengthAdjust="spacingAndGlyphs">8</text>
<text x="293.94" y="1097.82" font-size="25.36" textLength="17.34" lengthAdjust="spacingAndGlyphs">6</text>
<text x="294.93" y="1162.35" font-size="25.36" textLength="15.97" lengthAdjust="spacingAndGlyphs">4</text>
<text x="293.91" y="1226.88" font-size="25.36" textLength="17.72" lengthAdjust="spacingAndGlyphs">2</text>
<text x="294.29" y="1291.41" font-size="25.36" textLength="16.8" lengthAdjust="spacingAndGlyphs">0</text>
<g transform="translate(263.52,1294.6) rotate(-90)"><text x="-2.71" y="0" font-size="28.03" textLength="504.56" lengthAdjust="spacingAndGlyphs">Peak enrichment at subtelomeres</text></g>
<text transform="translate(364,1317) rotate(-45)" x="0" y="0" font-size="23.5" text-anchor="end">chr1</text>
<text transform="translate(427.2,1317) rotate(-45)" x="0" y="0" font-size="23.5" text-anchor="end">chr2</text>
<text transform="translate(490.4,1317) rotate(-45)" x="0" y="0" font-size="23.5" text-anchor="end">chr3</text>
<text transform="translate(553.6,1317) rotate(-45)" x="0" y="0" font-size="23.5" text-anchor="end">chr4</text>
<text transform="translate(616.8,1317) rotate(-45)" x="0" y="0" font-size="23.5" text-anchor="end">chr5</text>
<text transform="translate(680,1317) rotate(-45)" x="0" y="0" font-size="23.5" text-anchor="end">chr6</text>
<text transform="translate(743.2,1317) rotate(-45)" x="0" y="0" font-size="23.5" text-anchor="end">chr7</text>
<text transform="translate(806.4,1317) rotate(-45)" x="0" y="0" font-size="23.5" text-anchor="end">chr8</text>
<text transform="translate(869.6,1317) rotate(-45)" x="0" y="0" font-size="23.5" text-anchor="end">chr9</text>
<text transform="translate(932.8,1317) rotate(-45)" x="0" y="0" font-size="23.5" text-anchor="end">chr10</text>
<text transform="translate(996,1317) rotate(-45)" x="0" y="0" font-size="23.5" text-anchor="end">chr11</text>
<text transform="translate(1059.2,1317) rotate(-45)" x="0" y="0" font-size="23.5" text-anchor="end">chr12</text>
<text transform="translate(1122.4,1317) rotate(-45)" x="0" y="0" font-size="23.5" text-anchor="end">chr13</text>
<text transform="translate(1185.6,1317) rotate(-45)" x="0" y="0" font-size="23.5" text-anchor="end">chr14</text>
<text transform="translate(1248.8,1317) rotate(-45)" x="0" y="0" font-size="23.5" text-anchor="end">chr15</text>
<text transform="translate(1312,1317) rotate(-45)" x="0" y="0" font-size="23.5" text-anchor="end">chr16</text>
<text transform="translate(1375.2,1317) rotate(-45)" x="0" y="0" font-size="23.5" text-anchor="end">chr17</text>
<text transform="translate(1438.4,1317) rotate(-45)" x="0" y="0" font-size="23.5" text-anchor="end">chr18</text>
<text transform="translate(1501.6,1317) rotate(-45)" x="0" y="0" font-size="23.5" text-anchor="end">chr19</text>
<text transform="translate(1564.8,1317) rotate(-45)" x="0" y="0" font-size="23.5" text-anchor="end">chrX</text>
<text transform="translate(1628,1317) rotate(-45)" x="0" y="0" font-size="23.5" text-anchor="end">chrY</text>
<text transform="translate(1691.2,1317) rotate(-45)" x="0" y="0" font-size="23.5" text-anchor="end">chrM</text>
<rect x="1120.2" y="813.5" width="14.9" height="14.1" fill="#ba4a48"/>
<rect x="1288.3" y="813.5" width="15.3" height="14.1" fill="#97b955"/>
<rect x="1431" y="813.5" width="15.5" height="14.1" fill="#4a7dba"/>
<text x="1147.46" y="830.4" font-size="29.28" textLength="117.18" lengthAdjust="spacingAndGlyphs">Wild-type</text>
<g transform="translate(1314.87,830.4) scale(0.95,1)"><text x="0" y="0" font-size="29.28" font-style="italic">Pwp1</text><text x="73.23" y="-11" font-size="20.49">+/-</text></g>
<g transform="translate(1458.07,830.4) scale(0.95,1)"><text x="0" y="0" font-size="29.28" font-style="italic">Pwp1</text><text x="73.23" y="-11" font-size="20.49">+/-</text></g>
<text x="1554.26" y="830.4" font-size="29.28" textLength="125.63" lengthAdjust="spacingAndGlyphs">OE PWP1</text>
<text x="50.22" y="1426.41" font-size="49.27" textLength="27.58" lengthAdjust="spacingAndGlyphs" font-weight="bold">e</text>
<rect x="320.2" y="1426.9" width="389.8" height="221.9" fill="#ffffff"/>
<rect x="320.2" y="1494" width="389.8" height="135.4" fill="#f8f8f8"/>
<line x1="322.7" y1="1538.9" x2="707.5" y2="1538.9" stroke="#c8c8c8" stroke-width="1.2"/>
<path d="M322.7,1538.4H322.7V1538H323.7V1535H324.7V1534H325.7V1535H326.7V1537H327.7V1538.5H333.7V1536H334.7V1533.5H336.7V1534.5H337.7V1536.5H338.7V1538.5H353.7V1538H354.7V1537H355.7V1536.5H356.7V1535.5H357.7V1535H360.7V1535.5H361.7V1536.5H362.7V1537.5H363.7V1538.5H371.7V1537.5H372.7V1534.5H373.7V1532.5H374.7V1531H375.7V1530H377.7V1529.5H380.7V1530.5H381.7V1532H382.7V1533H383.7V1534H384.7V1531.5H385.7V1530H386.7V1529.5H387.7V1526.5H388.7V1526H389.7V1524H391.7V1525.5H392.7V1523.5H393.7V1522.5H394.7V1525H396.7V1524.5H397.7V1527.5H398.7V1528H399.7V1530H400.7V1530.5H401.7V1532.5H402.7V1535H403.7V1537H404.7V1538.5H447.7V1538H448.7V1537H449.7V1536H450.7V1536.5H452.7V1537H453.7V1538H454.7V1538.5H477.7V1537.5H478.7V1536.5H479.7V1535.5H482.7V1536.5H483.7V1537H484.7V1538H485.7V1538.5H507.7V1538H508.7V1535.5H509.7V1533.5H510.7V1532.5H513.7V1533.5H514.7V1535H515.7V1536.5H516.7V1538.5H539.7V1538H540.7V1536.5H541.7V1536H543.7V1536.5H544.7V1538H545.7V1538.5H571.7V1536H572.7V1533H573.7V1529.5H574.7V1528H575.7V1525.5H576.7V1525H577.7V1525.5H578.7V1528.5H579.7V1531H580.7V1535.5H581.7V1538.5H586.7V1535H587.7V1531.5H588.7V1527.5H589.7V1524.5H590.7V1522H591.7V1522.5H592.7V1519H593.7V1518.5H594.7V1517.5H595.7V1517H596.7V1520.5H597.7V1521H598.7V1526H599.7V1529.5H600.7V1525.5H601.7V1522.5H602.7V1517H604.7V1514.5H605.7V1510H606.7V1513H607.7V1509.5H608.7V1508.5H609.7V1512.5H610.7V1515H611.7V1521H612.7V1523.5H613.7V1528.5H614.7V1534.5H615.7V1536.5H617.7V1536H618.7V1536.5H621.7V1537.5H622.7V1538H623.7V1538.5H630.7V1532.5H631.7V1522H632.7V1513.5H633.7V1513H634.7V1508.5H635.7V1510.5H636.7V1510H637.7V1512H639.7V1516H640.7V1520.5H641.7V1523H642.7V1528.5H643.7V1533H644.7V1537.5H645.7V1538.5H649.7V1537.5H650.7V1535H651.7V1532H652.7V1530H653.7V1528H654.7V1528.5H655.7V1526.5H656.7V1526H657.7V1528.5H658.7V1527.5H660.7V1529.5H661.7V1530.5H662.7V1531H663.7V1532.5H664.7V1534H665.7V1535.5H666.7V1537H667.7V1538.5H677.7V1537.5H678.7V1536.5H679.7V1535.5H680.7V1534.5H681.7V1533.5H683.7V1532.5H685.7V1531H686.7V1531.5H688.7V1531H690.7V1530H691.7V1531H693.7V1531.5H695.7V1532.5H696.7V1533H697.7V1531H698.7V1529.5H699.7V1528H700.7V1526.5H701.7V1527.5H702.7V1526.5H703.7V1527.5H704.7V1531H705.7V1536H706.7V1538.5H707.7V1538.4Z" fill="#963a94"/>
<line x1="322.7" y1="1582.9" x2="707.5" y2="1582.9" stroke="#3a58b8" stroke-width="1.2"/>
<path d="M322.7,1582.4H322.7V1582H323.7V1580.5H324.7V1579H325.7V1578H328.7V1578.5H329.7V1579H330.7V1579.5H331.7V1581H332.7V1582.5H335.7V1580H336.7V1576.5H337.7V1575H338.7V1573.5H339.7V1575H341.7V1576.5H342.7V1579H343.7V1581H344.7V1582.5H356.7V1582H357.7V1581H360.7V1582H361.7V1582.5H365.7V1582H366.7V1578H367.7V1575.5H368.7V1572.5H369.7V1569.5H370.7V1569H371.7V1567H372.7V1565H373.7V1564.5H374.7V1566.5H375.7V1568.5H376.7V1571H377.7V1574.5H378.7V1579.5H379.7V1582H380.7V1581H381.7V1580.5H382.7V1580H383.7V1579.5H384.7V1579H386.7V1579.5H389.7V1580H390.7V1580.5H391.7V1581.5H392.7V1582H393.7V1577.5H394.7V1573H395.7V1571.5H396.7V1570.5H398.7V1572.5H399.7V1575.5H400.7V1578H401.7V1581.5H402.7V1582.5H404.7V1582H405.7V1581H407.7V1580.5H408.7V1581H409.7V1581.5H410.7V1582H411.7V1582.5H458.7V1581.5H459.7V1581H460.7V1580.5H461.7V1580H462.7V1579.5H463.7V1580H465.7V1580.5H466.7V1581H467.7V1581.5H468.7V1582H469.7V1582.5H477.7V1580.5H478.7V1578H479.7V1576.5H480.7V1575H481.7V1573H482.7V1570.5H483.7V1570H485.7V1569H486.7V1570.5H487.7V1570H488.7V1569.5H489.7V1571.5H490.7V1572.5H491.7V1574H492.7V1574.5H493.7V1575.5H494.7V1578H495.7V1579.5H496.7V1581H497.7V1582.5H499.7V1582H500.7V1578H501.7V1575.5H502.7V1574.5H503.7V1575H504.7V1577H505.7V1580H506.7V1582.5H531.7V1581.5H532.7V1579.5H533.7V1578H534.7V1576.5H535.7V1575H536.7V1574.5H537.7V1574H539.7V1574.5H540.7V1575.5H541.7V1577.5H542.7V1580H543.7V1582H544.7V1582.5H560.7V1578H561.7V1574H562.7V1572H563.7V1573H564.7V1575.5H565.7V1579H566.7V1582.5H576.7V1581.5H578.7V1582H579.7V1582.5H651.7V1582H652.7V1581.5H653.7V1581H654.7V1580.5H657.7V1580H659.7V1580.5H662.7V1581H663.7V1581.5H665.7V1582H666.7V1582.5H679.7V1580H680.7V1577H681.7V1576H682.7V1574H684.7V1574.5H685.7V1575.5H687.7V1577.5H688.7V1579.5H689.7V1581H690.7V1582.5H695.7V1577.5H696.7V1574.5H697.7V1572H698.7V1571H699.7V1570H700.7V1572.5H701.7V1574H702.7V1577.5H703.7V1582H704.7V1580.5H705.7V1579.5H706.7V1581H707.7V1582.4Z" fill="#0c2b8e"/>
<line x1="322.7" y1="1626.3" x2="707.5" y2="1626.3" stroke="#c8c8c8" stroke-width="1.2"/>
<path d="M322.7,1625.8H322.7V1625.5H323.7V1624H324.7V1623.5H327.7V1624H328.7V1625H329.7V1626H358.7V1621.5H359.7V1619H360.7V1616.5H361.7V1617H362.7V1619H363.7V1622.5H364.7V1626H386.7V1622.5H387.7V1617.5H388.7V1613H389.7V1609.5H390.7V1609H391.7V1610.5H392.7V1611H393.7V1612H394.7V1613.5H395.7V1614.5H397.7V1616H398.7V1617.5H399.7V1618.5H400.7V1621H401.7V1623H402.7V1625H403.7V1626H430.7V1625.5H431.7V1625H432.7V1624.5H433.7V1624H436.7V1624.5H437.7V1625.5H438.7V1626H460.7V1625H461.7V1624H462.7V1623H463.7V1622.5H465.7V1622H466.7V1622.5H467.7V1622H469.7V1623H470.7V1622.5H471.7V1623H473.7V1623.5H476.7V1624H478.7V1624.5H479.7V1625H481.7V1625.5H482.7V1626H505.7V1624H506.7V1621H507.7V1619.5H508.7V1619H509.7V1620H510.7V1622H511.7V1624.5H512.7V1626H528.7V1625H529.7V1623.5H530.7V1623H531.7V1621.5H533.7V1620H534.7V1619.5H536.7V1619H539.7V1621H540.7V1623H541.7V1626H560.7V1623.5H561.7V1615.5H562.7V1610.5H563.7V1608H564.7V1602.5H566.7V1602H567.7V1606H568.7V1605H569.7V1609H570.7V1608.5H571.7V1612H572.7V1614.5H573.7V1615.5H574.7V1619.5H575.7V1617H576.7V1614.5H577.7V1614H578.7V1612.5H579.7V1609.5H581.7V1608H582.7V1610H583.7V1608.5H584.7V1609.5H585.7V1608.5H586.7V1612H587.7V1611H588.7V1615.5H589.7V1616.5H590.7V1620.5H591.7V1623H592.7V1626H598.7V1621.5H599.7V1613.5H600.7V1607H601.7V1600H602.7V1599.5H603.7V1602H604.7V1600H605.7V1608H606.7V1613.5H607.7V1619.5H608.7V1626H615.7V1623H616.7V1616.5H617.7V1613.5H618.7V1611.5H619.7V1613H620.7V1614.5H621.7V1617.5H622.7V1622.5H623.7V1626H649.7V1623.5H650.7V1618H651.7V1613H652.7V1609.5H653.7V1607.5H654.7V1607H655.7V1605H656.7V1608H657.7V1613H658.7V1618.5H659.7V1626H670.7V1625H671.7V1624.5H672.7V1624H673.7V1623.5H674.7V1623H676.7V1622H677.7V1622.5H678.7V1622H681.7V1621.5H682.7V1622H683.7V1622.5H685.7V1623H686.7V1623.5H687.7V1624H688.7V1624.5H689.7V1625.5H690.7V1626H691.7V1623.5H692.7V1617.5H693.7V1614.5H694.7V1610.5H695.7V1608.5H696.7V1606H697.7V1606.5H698.7V1608.5H699.7V1613.5H700.7V1620H701.7V1626H707.7V1625.8Z" fill="#e8131b"/>
<line x1="320.2" y1="1494.1" x2="710" y2="1494.1" stroke="#5a5c5c" stroke-width="2.8"/>
<rect x="320.2" y="1626.4" width="389.8" height="2.2" fill="#dcdede"/>
<line x1="320.2" y1="1629.4" x2="710" y2="1629.4" stroke="#5e6060" stroke-width="1.7"/>
<line x1="320.2" y1="1633.9" x2="710" y2="1633.9" stroke="#5e6060" stroke-width="1.7"/>
<rect x="321.5" y="1428.2" width="387.2" height="219.3" fill="none" stroke="#000" stroke-width="2.6"/>
<text x="378" y="1462.1" font-size="28.7" textLength="253.25" lengthAdjust="spacingAndGlyphs">Chr1 telomeric end</text>
<text x="326.4" y="1483.99" font-size="17.65" textLength="55.74" lengthAdjust="spacingAndGlyphs">[ 20kb]</text>
<rect x="723" y="1426.9" width="389.1" height="221" fill="#ffffff"/>
<rect x="723" y="1493.9" width="389.1" height="135.1" fill="#f8f8f8"/>
<line x1="725.5" y1="1538.4" x2="1109.6" y2="1538.4" stroke="#c8c8c8" stroke-width="1.2"/>
<path d="M725.5,1537.9H725.5V1538H727.5V1537.5H728.5V1537H729.5V1536.5H730.5V1536H731.5V1535.5H735.5V1535H736.5V1535.5H740.5V1536.5H742.5V1537H743.5V1537.5H744.5V1538H746.5V1537H747.5V1536H748.5V1535H749.5V1534.5H750.5V1533.5H752.5V1533H753.5V1532.5H755.5V1533H756.5V1534H757.5V1534.5H758.5V1535H759.5V1535.5H760.5V1537H761.5V1538H777.5V1537.5H778.5V1536H779.5V1534.5H780.5V1533H781.5V1532.5H782.5V1532H783.5V1531H784.5V1530.5H785.5V1531.5H788.5V1532.5H791.5V1533H792.5V1534H793.5V1534.5H794.5V1535.5H795.5V1536H796.5V1537H797.5V1538H884.5V1537.5H885.5V1537H887.5V1537.5H888.5V1538H898.5V1537.5H899.5V1535.5H900.5V1534H901.5V1533H902.5V1532H903.5V1531.5H904.5V1530.5H905.5V1530H906.5V1530.5H909.5V1531H910.5V1530.5H912.5V1531H913.5V1532H914.5V1532.5H915.5V1533H916.5V1534H917.5V1534.5H918.5V1535.5H919.5V1536H920.5V1537H921.5V1537.5H922.5V1538H927.5V1537H928.5V1536.5H932.5V1537H933.5V1537.5H934.5V1538H943.5V1537.5H944.5V1536H945.5V1535H946.5V1534H947.5V1532.5H948.5V1531.5H949.5V1530.5H950.5V1530H951.5V1529H952.5V1528.5H954.5V1529H955.5V1528.5H956.5V1528H957.5V1529H958.5V1530H959.5V1530.5H961.5V1532H962.5V1532.5H963.5V1533.5H964.5V1534H965.5V1534.5H966.5V1536H967.5V1537H968.5V1538H976.5V1536.5H977.5V1534H978.5V1532H979.5V1529.5H980.5V1528H982.5V1529H983.5V1530H984.5V1532H985.5V1535.5H986.5V1537.5H987.5V1536H988.5V1535H989.5V1533.5H990.5V1532.5H991.5V1528H992.5V1524H993.5V1519H994.5V1514H995.5V1513H996.5V1508H997.5V1506H998.5V1503H999.5V1507H1000.5V1500.5H1001.5V1501H1003.5V1505.5H1004.5V1515.5H1005.5V1521.5H1006.5V1519H1007.5V1514H1008.5V1511H1009.5V1515.5H1010.5V1518H1011.5V1521H1012.5V1516.5H1013.5V1513H1014.5V1512H1015.5V1507H1016.5V1509H1017.5V1513.5H1018.5V1516H1019.5V1520.5H1020.5V1526.5H1021.5V1532.5H1022.5V1538H1049.5V1537.5H1050.5V1536H1051.5V1534.5H1052.5V1533.5H1053.5V1533H1056.5V1533.5H1057.5V1533H1059.5V1533.5H1060.5V1534H1061.5V1534.5H1062.5V1535H1063.5V1535.5H1064.5V1536H1065.5V1536.5H1067.5V1537H1068.5V1538H1110.5V1537.9Z" fill="#963a94"/>
<line x1="725.5" y1="1582" x2="1109.6" y2="1582" stroke="#3a58b8" stroke-width="1.2"/>
<path d="M725.5,1581.5H725.5V1581.5H758.5V1581H759.5V1580H760.5V1579.5H763.5V1580H764.5V1581H765.5V1581.5H788.5V1579H789.5V1576.5H790.5V1575H792.5V1574.5H793.5V1576H794.5V1577H795.5V1580H796.5V1581.5H805.5V1580H806.5V1578.5H807.5V1577.5H810.5V1578H813.5V1579H814.5V1579.5H815.5V1580H816.5V1580.5H817.5V1581H818.5V1581.5H848.5V1580.5H849.5V1580H850.5V1579.5H851.5V1578.5H852.5V1578H853.5V1577.5H855.5V1577H856.5V1576.5H857.5V1576H859.5V1576.5H860.5V1577H861.5V1577.5H863.5V1578.5H865.5V1579.5H866.5V1580.5H867.5V1581.5H893.5V1579.5H894.5V1577H895.5V1575.5H897.5V1575H898.5V1573.5H899.5V1574.5H901.5V1576H902.5V1577H903.5V1578H904.5V1579H905.5V1580.5H906.5V1581.5H916.5V1581H918.5V1580.5H920.5V1580H923.5V1579.5H926.5V1579H929.5V1578.5H930.5V1579H931.5V1578.5H932.5V1579H938.5V1579.5H940.5V1580H943.5V1580.5H945.5V1581H947.5V1581.5H955.5V1580.5H956.5V1579H957.5V1578H958.5V1577.5H959.5V1576.5H960.5V1576H961.5V1574.5H963.5V1573.5H964.5V1574H965.5V1573.5H967.5V1575H968.5V1577H969.5V1579H970.5V1581.5H975.5V1578H976.5V1573.5H977.5V1567H978.5V1563.5H979.5V1562.5H980.5V1561H981.5V1558H982.5V1557.5H983.5V1563H984.5V1564H985.5V1569.5H986.5V1576H987.5V1581.5H988.5V1580.5H989.5V1579.5H990.5V1578.5H991.5V1577.5H992.5V1577H993.5V1576H995.5V1575H999.5V1574.5H1000.5V1575.5H1002.5V1576H1004.5V1577H1005.5V1578.5H1006.5V1579H1007.5V1580H1008.5V1581H1009.5V1581.5H1012.5V1581H1013.5V1579H1014.5V1578H1015.5V1577.5H1016.5V1578H1017.5V1578.5H1018.5V1579.5H1019.5V1580.5H1020.5V1581.5H1104.5V1580.5H1105.5V1580H1106.5V1579.5H1107.5V1579H1108.5V1579.5H1109.5V1581.5H1110.5V1581.5Z" fill="#0c2b8e"/>
<line x1="725.5" y1="1625.5" x2="1109.6" y2="1625.5" stroke="#c8c8c8" stroke-width="1.2"/>
<path d="M725.5,1625H725.5V1625H726.5V1623.5H727.5V1622.5H728.5V1623H729.5V1623.5H730.5V1624.5H731.5V1625H760.5V1624.5H761.5V1624H762.5V1623.5H764.5V1624H766.5V1624.5H767.5V1625H791.5V1624H792.5V1623H793.5V1622H794.5V1620.5H796.5V1619.5H797.5V1620.5H799.5V1621.5H800.5V1622H801.5V1623H802.5V1624H803.5V1625H813.5V1624H814.5V1623H815.5V1622.5H816.5V1622H817.5V1620.5H818.5V1620H819.5V1620.5H820.5V1619.5H822.5V1619H823.5V1618.5H824.5V1619H826.5V1621H827.5V1623H828.5V1625H884.5V1624.5H885.5V1623H886.5V1622.5H888.5V1623.5H889.5V1625H896.5V1623H897.5V1622H898.5V1621.5H899.5V1623H900.5V1625H916.5V1624.5H917.5V1624H920.5V1623.5H923.5V1623H926.5V1622.5H928.5V1623H929.5V1622.5H930.5V1623H932.5V1623.5H935.5V1624H936.5V1624.5H938.5V1625H939.5V1624.5H940.5V1623.5H941.5V1623H942.5V1622.5H943.5V1621.5H944.5V1620.5H946.5V1619.5H948.5V1619H949.5V1618.5H950.5V1617.5H952.5V1616.5H953.5V1618H954.5V1616.5H955.5V1617.5H956.5V1618H958.5V1619H959.5V1622H960.5V1624H961.5V1625H976.5V1623.5H977.5V1621H978.5V1619H979.5V1618H980.5V1617H981.5V1615.5H982.5V1615H983.5V1616H984.5V1618H985.5V1620.5H986.5V1623H987.5V1625H992.5V1623.5H993.5V1621H994.5V1619.5H995.5V1618H996.5V1616H997.5V1614.5H998.5V1612.5H1000.5V1609.5H1001.5V1609H1002.5V1610.5H1003.5V1610H1004.5V1608H1005.5V1610H1006.5V1608H1007.5V1610H1009.5V1610.5H1010.5V1612.5H1011.5V1613H1012.5V1614H1014.5V1615H1015.5V1617.5H1017.5V1619.5H1018.5V1621H1019.5V1622.5H1020.5V1624H1021.5V1625H1038.5V1624.5H1039.5V1623.5H1040.5V1622H1041.5V1621.5H1043.5V1622H1045.5V1623H1046.5V1624H1047.5V1625H1083.5V1624H1085.5V1623.5H1087.5V1624H1088.5V1624.5H1090.5V1625H1110.5V1625Z" fill="#e8131b"/>
<line x1="723" y1="1494" x2="1112.1" y2="1494" stroke="#5a5c5c" stroke-width="2.8"/>
<rect x="723" y="1626" width="389.1" height="2.2" fill="#dcdede"/>
<line x1="723" y1="1629" x2="1112.1" y2="1629" stroke="#5e6060" stroke-width="1.7"/>
<line x1="723" y1="1633.4" x2="1112.1" y2="1633.4" stroke="#5e6060" stroke-width="1.7"/>
<rect x="724.3" y="1428.2" width="386.5" height="218.4" fill="none" stroke="#000" stroke-width="2.6"/>
<text x="780.4" y="1461.6" font-size="28.7" textLength="253.15" lengthAdjust="spacingAndGlyphs">Chr9 telomeric end</text>
<text x="728.9" y="1480.99" font-size="17.65" textLength="55.95" lengthAdjust="spacingAndGlyphs">[ 20kb]</text>
<rect x="1125.3" y="1426.9" width="389.9" height="221.7" fill="#ffffff"/>
<rect x="1125.3" y="1490.4" width="389.9" height="138.1" fill="#f8f8f8"/>
<line x1="1127.8" y1="1535.4" x2="1512.7" y2="1535.4" stroke="#c8c8c8" stroke-width="1.2"/>
<path d="M1127.8,1534.9H1127.8V1535H1131.8V1531H1132.8V1528H1133.8V1525H1134.8V1523H1136.8V1522H1137.8V1522.5H1138.8V1524.5H1139.8V1527.5H1140.8V1530.5H1141.8V1534H1142.8V1535H1149.8V1532.5H1150.8V1531H1151.8V1529H1152.8V1526.5H1153.8V1525.5H1154.8V1524.5H1155.8V1523H1156.8V1520.5H1157.8V1521H1158.8V1520H1159.8V1519H1160.8V1518H1161.8V1519H1162.8V1521H1163.8V1520.5H1164.8V1523H1165.8V1524.5H1166.8V1526H1167.8V1527.5H1168.8V1531H1169.8V1533.5H1170.8V1535H1172.8V1533H1173.8V1525.5H1174.8V1519.5H1175.8V1510.5H1176.8V1504.5H1177.8V1505H1178.8V1503.5H1179.8V1505H1180.8V1502H1181.8V1506.5H1182.8V1510.5H1183.8V1513H1184.8V1518.5H1185.8V1525H1186.8V1532H1187.8V1534H1188.8V1532.5H1189.8V1531.5H1190.8V1530.5H1191.8V1528.5H1192.8V1527.5H1193.8V1526.5H1194.8V1525H1198.8V1523.5H1200.8V1524H1201.8V1522.5H1202.8V1523H1203.8V1524.5H1204.8V1523H1205.8V1525H1206.8V1523.5H1208.8V1522H1209.8V1521.5H1210.8V1522.5H1212.8V1525H1214.8V1527.5H1215.8V1528H1216.8V1529H1217.8V1530H1218.8V1529.5H1219.8V1531H1220.8V1531.5H1221.8V1532.5H1223.8V1533.5H1224.8V1534.5H1225.8V1535H1231.8V1534.5H1232.8V1534H1233.8V1533.5H1235.8V1533H1236.8V1532H1237.8V1531.5H1239.8V1531H1241.8V1530.5H1242.8V1530H1246.8V1529.5H1247.8V1529H1250.8V1529.5H1251.8V1530H1253.8V1529.5H1254.8V1530H1256.8V1530.5H1257.8V1531.5H1258.8V1532H1259.8V1532.5H1260.8V1533H1261.8V1533.5H1262.8V1534H1263.8V1535H1283.8V1534.5H1285.8V1534H1286.8V1533.5H1288.8V1533H1291.8V1532.5H1293.8V1531.5H1296.8V1531H1298.8V1530.5H1299.8V1531H1302.8V1530.5H1303.8V1531H1304.8V1530.5H1305.8V1531H1306.8V1530.5H1307.8V1531H1311.8V1531.5H1313.8V1532H1316.8V1532.5H1319.8V1533H1321.8V1533.5H1322.8V1534H1325.8V1534.5H1326.8V1535H1328.8V1534H1329.8V1531.5H1330.8V1530H1331.8V1528H1332.8V1526.5H1333.8V1525H1334.8V1523.5H1335.8V1520H1336.8V1521H1337.8V1519.5H1338.8V1518H1339.8V1517.5H1340.8V1514H1341.8V1516.5H1342.8V1513H1343.8V1514.5H1344.8V1515H1345.8V1514.5H1346.8V1513.5H1347.8V1515H1348.8V1514.5H1349.8V1515H1351.8V1514.5H1352.8V1517H1353.8V1516.5H1354.8V1517H1355.8V1519.5H1356.8V1519H1357.8V1522H1359.8V1523.5H1360.8V1525H1361.8V1525.5H1362.8V1526.5H1363.8V1528.5H1364.8V1530H1365.8V1531.5H1366.8V1533H1367.8V1535H1372.8V1534.5H1373.8V1533.5H1374.8V1532.5H1375.8V1532H1376.8V1531.5H1379.8V1532H1380.8V1532.5H1381.8V1533H1382.8V1534H1383.8V1535H1386.8V1532.5H1387.8V1529H1388.8V1527H1389.8V1524H1390.8V1522.5H1391.8V1518.5H1392.8V1519.5H1393.8V1515.5H1395.8V1513.5H1396.8V1513H1397.8V1516H1399.8V1514H1400.8V1516.5H1401.8V1520H1402.8V1521H1403.8V1523.5H1404.8V1525H1405.8V1528H1406.8V1530.5H1407.8V1533H1408.8V1535H1425.8V1534.5H1426.8V1533.5H1428.8V1533H1430.8V1534H1431.8V1534.5H1432.8V1535H1444.8V1534.5H1445.8V1533.5H1446.8V1532.5H1447.8V1531.5H1448.8V1531H1449.8V1530H1450.8V1529H1451.8V1528.5H1453.8V1528H1454.8V1527H1456.8V1526.5H1458.8V1525.5H1461.8V1526.5H1463.8V1525.5H1464.8V1526H1465.8V1526.5H1467.8V1528H1468.8V1528.5H1470.8V1529H1471.8V1530H1472.8V1530.5H1474.8V1531.5H1475.8V1532H1476.8V1532.5H1477.8V1533.5H1478.8V1534.5H1479.8V1535H1485.8V1534H1486.8V1532H1487.8V1530H1488.8V1528H1489.8V1527.5H1490.8V1526.5H1491.8V1524H1492.8V1523H1494.8V1520H1495.8V1519H1496.8V1519.5H1497.8V1520.5H1498.8V1520H1499.8V1517.5H1500.8V1518H1501.8V1519H1502.8V1518.5H1503.8V1522H1504.8V1521H1505.8V1522H1506.8V1523.5H1507.8V1526.5H1508.8V1527H1509.8V1529.5H1510.8V1531.5H1511.8V1533.5H1512.8V1534.9Z" fill="#963a94"/>
<line x1="1127.8" y1="1580.1" x2="1512.7" y2="1580.1" stroke="#3a58b8" stroke-width="1.2"/>
<path d="M1127.8,1579.6H1127.8V1579.5H1128.8V1579H1129.8V1577.5H1130.8V1576.5H1131.8V1575H1132.8V1574.5H1133.8V1572.5H1134.8V1571.5H1135.8V1571H1136.8V1570H1139.8V1569H1140.8V1568H1141.8V1569.5H1142.8V1567.5H1143.8V1569H1144.8V1569.5H1145.8V1570H1146.8V1568.5H1147.8V1569.5H1148.8V1570H1149.8V1571H1150.8V1573H1152.8V1574H1153.8V1575.5H1155.8V1577H1156.8V1578.5H1157.8V1579.5H1160.8V1579H1161.8V1578.5H1164.8V1579H1165.8V1579.5H1187.8V1579H1188.8V1577.5H1189.8V1576.5H1190.8V1576H1191.8V1574.5H1193.8V1573.5H1194.8V1574.5H1195.8V1573.5H1197.8V1574H1199.8V1574.5H1201.8V1575H1204.8V1576H1205.8V1575.5H1206.8V1576H1207.8V1576.5H1208.8V1577H1209.8V1577.5H1211.8V1578H1212.8V1578.5H1213.8V1579H1214.8V1579.5H1243.8V1578.5H1244.8V1577.5H1248.8V1578H1249.8V1579H1250.8V1579.5H1334.8V1576.5H1335.8V1573.5H1336.8V1570.5H1337.8V1569H1338.8V1566.5H1339.8V1564.5H1340.8V1561.5H1341.8V1562.5H1342.8V1561.5H1343.8V1563H1344.8V1564.5H1345.8V1565.5H1346.8V1565H1347.8V1567.5H1348.8V1570.5H1349.8V1572.5H1350.8V1575.5H1351.8V1578.5H1352.8V1579.5H1364.8V1579H1365.8V1577.5H1366.8V1576.5H1367.8V1575.5H1370.8V1576.5H1371.8V1577.5H1372.8V1578.5H1373.8V1579.5H1404.8V1578H1405.8V1576.5H1406.8V1576H1407.8V1575.5H1409.8V1576H1411.8V1576.5H1412.8V1577H1413.8V1577.5H1414.8V1578H1415.8V1578.5H1416.8V1579H1417.8V1579.5H1463.8V1578.5H1464.8V1577.5H1465.8V1577H1468.8V1577.5H1470.8V1578H1471.8V1578.5H1472.8V1579.5H1505.8V1579H1506.8V1577.5H1507.8V1576H1508.8V1575H1509.8V1574.5H1510.8V1575H1511.8V1577.5H1512.8V1579.6Z" fill="#0c2b8e"/>
<line x1="1127.8" y1="1624.6" x2="1512.7" y2="1624.6" stroke="#c8c8c8" stroke-width="1.2"/>
<path d="M1127.8,1624.1H1127.8V1624H1135.8V1622H1136.8V1620H1137.8V1618.5H1138.8V1616.5H1139.8V1618.5H1140.8V1620.5H1141.8V1623H1142.8V1624H1150.8V1620H1151.8V1615H1152.8V1613H1153.8V1609H1154.8V1610.5H1155.8V1610H1156.8V1609.5H1157.8V1611H1158.8V1611.5H1159.8V1613H1160.8V1616H1162.8V1618H1163.8V1620H1164.8V1622H1165.8V1624H1175.8V1619.5H1176.8V1615.5H1177.8V1611H1178.8V1608.5H1179.8V1605H1180.8V1604.5H1181.8V1602.5H1182.8V1602H1183.8V1603.5H1184.8V1601H1185.8V1604H1186.8V1602H1188.8V1603.5H1189.8V1606.5H1190.8V1604.5H1191.8V1606H1192.8V1608.5H1193.8V1609.5H1194.8V1609H1195.8V1611.5H1196.8V1610.5H1197.8V1613H1198.8V1614H1199.8V1615.5H1200.8V1617H1201.8V1618H1202.8V1620H1203.8V1621.5H1204.8V1623H1205.8V1624H1211.8V1623.5H1213.8V1623H1216.8V1622.5H1218.8V1622H1222.8V1621.5H1223.8V1621H1224.8V1621.5H1225.8V1621H1226.8V1621.5H1227.8V1620.5H1228.8V1621H1229.8V1620.5H1235.8V1620H1238.8V1620.5H1239.8V1620H1240.8V1620.5H1241.8V1620H1244.8V1620.5H1246.8V1621.5H1247.8V1622H1248.8V1622.5H1249.8V1623H1250.8V1623.5H1251.8V1624H1256.8V1623.5H1257.8V1622.5H1258.8V1622H1260.8V1621.5H1261.8V1622H1263.8V1622.5H1264.8V1623.5H1265.8V1624H1306.8V1623.5H1308.8V1623H1314.8V1623.5H1316.8V1624H1329.8V1623H1330.8V1620.5H1331.8V1617H1332.8V1615.5H1333.8V1613.5H1334.8V1612H1335.8V1609H1336.8V1608.5H1337.8V1607H1338.8V1604.5H1339.8V1603.5H1341.8V1606.5H1342.8V1605.5H1343.8V1604H1344.8V1607.5H1345.8V1607H1346.8V1606.5H1347.8V1607.5H1348.8V1607H1349.8V1608H1350.8V1610H1351.8V1611.5H1352.8V1612.5H1353.8V1613H1354.8V1615H1356.8V1617H1358.8V1619H1359.8V1621H1360.8V1622H1361.8V1623.5H1362.8V1624H1376.8V1621.5H1377.8V1619H1378.8V1618H1379.8V1615.5H1380.8V1616H1381.8V1615H1382.8V1614H1383.8V1614.5H1384.8V1616H1385.8V1615.5H1386.8V1616H1388.8V1615.5H1389.8V1616H1390.8V1617.5H1391.8V1617H1393.8V1618H1395.8V1618.5H1396.8V1619H1397.8V1620H1399.8V1621H1400.8V1621.5H1401.8V1622H1402.8V1622.5H1403.8V1623H1404.8V1624H1407.8V1623.5H1408.8V1623H1409.8V1622.5H1411.8V1622H1412.8V1621.5H1416.8V1622H1418.8V1622.5H1419.8V1623H1420.8V1624H1429.8V1622.5H1430.8V1621H1431.8V1619.5H1432.8V1620.5H1433.8V1621H1434.8V1622.5H1435.8V1624H1448.8V1623H1449.8V1622H1450.8V1621H1451.8V1620.5H1452.8V1619H1453.8V1618H1454.8V1617H1455.8V1616.5H1457.8V1616H1458.8V1615.5H1459.8V1614.5H1460.8V1613H1462.8V1613.5H1463.8V1613H1464.8V1612.5H1465.8V1613.5H1466.8V1612.5H1467.8V1613H1468.8V1614H1469.8V1614.5H1470.8V1615.5H1471.8V1616.5H1472.8V1618H1473.8V1619.5H1474.8V1620.5H1475.8V1622H1476.8V1623H1477.8V1624H1481.8V1622.5H1482.8V1621H1483.8V1620H1484.8V1619H1485.8V1618H1486.8V1617.5H1487.8V1618H1489.8V1619.5H1490.8V1621.5H1491.8V1623.5H1492.8V1624H1497.8V1623.5H1498.8V1620H1499.8V1616.5H1500.8V1614H1501.8V1613H1502.8V1612.5H1503.8V1609H1504.8V1610H1505.8V1611.5H1506.8V1613H1507.8V1614.5H1508.8V1616.5H1509.8V1619.5H1510.8V1622.5H1511.8V1624H1512.8V1624.1Z" fill="#e8131b"/>
<line x1="1125.3" y1="1490.5" x2="1515.2" y2="1490.5" stroke="#5a5c5c" stroke-width="2.8"/>
<rect x="1125.3" y="1625.5" width="389.9" height="2.2" fill="#dcdede"/>
<line x1="1125.3" y1="1628.5" x2="1515.2" y2="1628.5" stroke="#5e6060" stroke-width="1.7"/>
<line x1="1125.3" y1="1633.2" x2="1515.2" y2="1633.2" stroke="#5e6060" stroke-width="1.7"/>
<rect x="1126.6" y="1428.2" width="387.3" height="219.1" fill="none" stroke="#000" stroke-width="2.6"/>
<text x="1202.99" y="1462.6" font-size="28.7" textLength="270.29" lengthAdjust="spacingAndGlyphs">Chr11 telomeric end</text>
<text x="1132.71" y="1479.69" font-size="17.65" textLength="55.21" lengthAdjust="spacingAndGlyphs">[ 20kb]</text>
<rect x="1525.4" y="1428.4" width="389.4" height="220.7" fill="#ffffff"/>
<rect x="1525.4" y="1494.5" width="389.4" height="136.2" fill="#f8f8f8"/>
<line x1="1527.9" y1="1539.5" x2="1912.3" y2="1539.5" stroke="#c8c8c8" stroke-width="1.2"/>
<path d="M1527.9,1539H1527.9V1539H1543.9V1538.5H1544.9V1537.5H1545.9V1537H1546.9V1535.5H1548.9V1534.5H1549.9V1534H1550.9V1533.5H1551.9V1532.5H1552.9V1533H1553.9V1532H1555.9V1534H1556.9V1536.5H1557.9V1539H1569.9V1538H1570.9V1536H1571.9V1535H1572.9V1534.5H1573.9V1534H1574.9V1534.5H1575.9V1535.5H1576.9V1536.5H1577.9V1537.5H1578.9V1538.5H1579.9V1539H1608.9V1538H1609.9V1534H1610.9V1531H1611.9V1528H1612.9V1526.5H1613.9V1525.5H1614.9V1528H1616.9V1530.5H1617.9V1532H1618.9V1535H1619.9V1539H1649.9V1538H1650.9V1536.5H1651.9V1534.5H1652.9V1533H1653.9V1531.5H1654.9V1531H1655.9V1530H1656.9V1530.5H1657.9V1530H1658.9V1532H1659.9V1533.5H1660.9V1532H1661.9V1526.5H1662.9V1522H1663.9V1519.5H1664.9V1518H1665.9V1511H1666.9V1508H1667.9V1509H1668.9V1507.5H1669.9V1503.5H1670.9V1508H1671.9V1508.5H1672.9V1507H1673.9V1510H1674.9V1513H1675.9V1516.5H1676.9V1522.5H1677.9V1528H1678.9V1534H1679.9V1538.5H1680.9V1536.5H1681.9V1534.5H1682.9V1533H1683.9V1531H1684.9V1530.5H1685.9V1530H1688.9V1531H1689.9V1531.5H1690.9V1533H1691.9V1534H1692.9V1536H1693.9V1538H1694.9V1539H1695.9V1538H1696.9V1534H1697.9V1531H1698.9V1528.5H1699.9V1524.5H1700.9V1523.5H1701.9V1520H1702.9V1519H1703.9V1515H1704.9V1514.5H1705.9V1512H1706.9V1508.5H1708.9V1511.5H1709.9V1509H1710.9V1511.5H1711.9V1508H1712.9V1512.5H1713.9V1514H1714.9V1521H1715.9V1524H1716.9V1531.5H1717.9V1537H1718.9V1535.5H1719.9V1531.5H1720.9V1525.5H1721.9V1522H1722.9V1521.5H1723.9V1518H1724.9V1517H1725.9V1518.5H1726.9V1517.5H1727.9V1515.5H1728.9V1519H1729.9V1518H1730.9V1519.5H1731.9V1521H1732.9V1523H1733.9V1524.5H1734.9V1528H1735.9V1529.5H1736.9V1532H1737.9V1534.5H1738.9V1537H1739.9V1539H1762.9V1538H1763.9V1537.5H1765.9V1538H1766.9V1539H1788.9V1537.5H1789.9V1535.5H1790.9V1534H1791.9V1532H1793.9V1531.5H1796.9V1532.5H1797.9V1532H1798.9V1532.5H1799.9V1533H1800.9V1534H1801.9V1535H1802.9V1536.5H1803.9V1537.5H1804.9V1538.5H1805.9V1539H1856.9V1536.5H1857.9V1535H1858.9V1533.5H1859.9V1532.5H1860.9V1532H1861.9V1533H1862.9V1533.5H1863.9V1534.5H1864.9V1536.5H1865.9V1538.5H1866.9V1539H1900.9V1538H1901.9V1537.5H1902.9V1537H1903.9V1537.5H1904.9V1538.5H1905.9V1539H1912.9V1539Z" fill="#963a94"/>
<line x1="1527.9" y1="1583.6" x2="1912.3" y2="1583.6" stroke="#3a58b8" stroke-width="1.2"/>
<path d="M1527.9,1583.1H1527.9V1582H1528.9V1580H1529.9V1578H1530.9V1576H1531.9V1575.5H1532.9V1574.5H1533.9V1574H1534.9V1572.5H1535.9V1573.5H1536.9V1572.5H1537.9V1573H1538.9V1574H1539.9V1573.5H1540.9V1574H1542.9V1573.5H1543.9V1575.5H1544.9V1576H1545.9V1575H1546.9V1576.5H1547.9V1577H1548.9V1577.5H1549.9V1578H1550.9V1578.5H1551.9V1579.5H1552.9V1580.5H1553.9V1581H1554.9V1581.5H1555.9V1582.5H1556.9V1583H1569.9V1582H1570.9V1581.5H1571.9V1580.5H1572.9V1579.5H1573.9V1579H1574.9V1579.5H1575.9V1579H1577.9V1580H1578.9V1581H1579.9V1582.5H1580.9V1583H1588.9V1582.5H1589.9V1581.5H1590.9V1581H1591.9V1580H1592.9V1579.5H1593.9V1579H1594.9V1578.5H1595.9V1578H1596.9V1577.5H1597.9V1577H1601.9V1577.5H1602.9V1578H1603.9V1578.5H1604.9V1578H1605.9V1578.5H1607.9V1579.5H1610.9V1580.5H1612.9V1581.5H1614.9V1582H1615.9V1582.5H1616.9V1583H1639.9V1581H1640.9V1579H1641.9V1577.5H1642.9V1577H1643.9V1578H1644.9V1579H1645.9V1581H1646.9V1583H1663.9V1581H1664.9V1578.5H1665.9V1578H1666.9V1576.5H1667.9V1575.5H1668.9V1574.5H1669.9V1574H1670.9V1574.5H1671.9V1575H1672.9V1574.5H1673.9V1575.5H1674.9V1576H1676.9V1576.5H1677.9V1578H1678.9V1578.5H1681.9V1579H1682.9V1580.5H1683.9V1582.5H1684.9V1583H1699.9V1581.5H1700.9V1579.5H1701.9V1578H1702.9V1577H1703.9V1576.5H1704.9V1575.5H1705.9V1575H1707.9V1575.5H1709.9V1575H1710.9V1576.5H1712.9V1578H1713.9V1579H1714.9V1580H1715.9V1581.5H1716.9V1583H1727.9V1581.5H1728.9V1579.5H1729.9V1577.5H1730.9V1576H1731.9V1574.5H1732.9V1574H1733.9V1573H1734.9V1572.5H1735.9V1573H1736.9V1572.5H1737.9V1573.5H1738.9V1574H1739.9V1574.5H1740.9V1574H1741.9V1574.5H1743.9V1575.5H1744.9V1576.5H1745.9V1578H1747.9V1578.5H1748.9V1578H1749.9V1579H1750.9V1580.5H1751.9V1582.5H1752.9V1583H1800.9V1582.5H1801.9V1581.5H1802.9V1580.5H1803.9V1580H1804.9V1578.5H1805.9V1578H1806.9V1577H1807.9V1577.5H1808.9V1576H1809.9V1575H1810.9V1576H1811.9V1575.5H1812.9V1574.5H1813.9V1575.5H1814.9V1576.5H1815.9V1577H1816.9V1579.5H1817.9V1581.5H1818.9V1583H1829.9V1582.5H1830.9V1582H1831.9V1581.5H1832.9V1581H1833.9V1580.5H1834.9V1581H1835.9V1580.5H1840.9V1581.5H1841.9V1582H1843.9V1582.5H1844.9V1583H1860.9V1582.5H1861.9V1581H1862.9V1580H1863.9V1578.5H1864.9V1577.5H1865.9V1576H1867.9V1575H1868.9V1575.5H1869.9V1576H1870.9V1575.5H1871.9V1576H1873.9V1575.5H1874.9V1576H1875.9V1576.5H1876.9V1577H1878.9V1577.5H1882.9V1578.5H1883.9V1579H1885.9V1579.5H1886.9V1580H1888.9V1580.5H1889.9V1581H1890.9V1581.5H1891.9V1582H1892.9V1583H1908.9V1582H1909.9V1581H1910.9V1580.5H1911.9V1581.5H1912.9V1583.1Z" fill="#0c2b8e"/>
<line x1="1527.9" y1="1627.6" x2="1912.3" y2="1627.6" stroke="#c8c8c8" stroke-width="1.2"/>
<path d="M1527.9,1627.1H1527.9V1627H1558.9V1626.5H1559.9V1626H1561.9V1625.5H1562.9V1626H1564.9V1626.5H1565.9V1627H1576.9V1626H1577.9V1625H1578.9V1624.5H1579.9V1623.5H1582.9V1624H1583.9V1623.5H1584.9V1624.5H1585.9V1625H1587.9V1626H1588.9V1626.5H1589.9V1627H1602.9V1625.5H1603.9V1625H1604.9V1624H1605.9V1622.5H1606.9V1621H1608.9V1620H1609.9V1619.5H1610.9V1618.5H1611.9V1618H1612.9V1616.5H1614.9V1616H1615.9V1614H1616.9V1615.5H1617.9V1614H1619.9V1614.5H1622.9V1615H1623.9V1616H1624.9V1616.5H1625.9V1617H1627.9V1616.5H1628.9V1618H1629.9V1619H1630.9V1618.5H1632.9V1620H1633.9V1620.5H1634.9V1622H1635.9V1623H1636.9V1624H1637.9V1625.5H1638.9V1626.5H1639.9V1627H1648.9V1625.5H1649.9V1623.5H1650.9V1622H1651.9V1621H1652.9V1619H1653.9V1619.5H1654.9V1620H1655.9V1621.5H1656.9V1622.5H1657.9V1624H1658.9V1626H1659.9V1627H1672.9V1624H1673.9V1621H1674.9V1618.5H1675.9V1616H1676.9V1613H1677.9V1612.5H1678.9V1608.5H1680.9V1607H1681.9V1605.5H1683.9V1608H1684.9V1609H1685.9V1612H1686.9V1614.5H1687.9V1616.5H1688.9V1621.5H1689.9V1627H1693.9V1624H1694.9V1620H1695.9V1615H1696.9V1611.5H1697.9V1611H1699.9V1609.5H1700.9V1610.5H1702.9V1613H1703.9V1612.5H1704.9V1614H1705.9V1618H1706.9V1620H1707.9V1623H1708.9V1626H1709.9V1627H1713.9V1626.5H1714.9V1624.5H1715.9V1622H1716.9V1621H1717.9V1618.5H1720.9V1617H1721.9V1617.5H1722.9V1618.5H1723.9V1619.5H1724.9V1621H1725.9V1623H1726.9V1624.5H1727.9V1626H1728.9V1627H1742.9V1624.5H1743.9V1622.5H1744.9V1620.5H1745.9V1619.5H1746.9V1618H1747.9V1619.5H1748.9V1619H1749.9V1622H1750.9V1624.5H1751.9V1627H1761.9V1624.5H1762.9V1622H1763.9V1618.5H1764.9V1617H1765.9V1615H1767.9V1615.5H1768.9V1617H1769.9V1616.5H1771.9V1618H1772.9V1619.5H1773.9V1620.5H1775.9V1622H1776.9V1624H1777.9V1625H1778.9V1626.5H1779.9V1627H1808.9V1626.5H1810.9V1626H1816.9V1626.5H1817.9V1627H1838.9V1625H1839.9V1623.5H1840.9V1624H1841.9V1624.5H1842.9V1626H1843.9V1627H1850.9V1626H1851.9V1625H1852.9V1624H1853.9V1623H1854.9V1622.5H1858.9V1622H1859.9V1622.5H1860.9V1622H1861.9V1622.5H1862.9V1623H1863.9V1623.5H1867.9V1623H1868.9V1622.5H1869.9V1622H1871.9V1623H1872.9V1623.5H1873.9V1625H1874.9V1626.5H1875.9V1627H1895.9V1625.5H1896.9V1623.5H1897.9V1621H1898.9V1619.5H1899.9V1616.5H1901.9V1617H1902.9V1615H1903.9V1615.5H1904.9V1616.5H1905.9V1617.5H1906.9V1619.5H1907.9V1619H1908.9V1621.5H1909.9V1622.5H1910.9V1624.5H1911.9V1626H1912.9V1627.1Z" fill="#e8131b"/>
<line x1="1525.4" y1="1494.6" x2="1914.8" y2="1494.6" stroke="#5a5c5c" stroke-width="2.8"/>
<rect x="1525.4" y="1627.7" width="389.4" height="2.2" fill="#dcdede"/>
<line x1="1525.4" y1="1630.7" x2="1914.8" y2="1630.7" stroke="#5e6060" stroke-width="1.7"/>
<line x1="1525.4" y1="1634.8" x2="1914.8" y2="1634.8" stroke="#5e6060" stroke-width="1.7"/>
<rect x="1526.7" y="1429.7" width="386.8" height="218.1" fill="none" stroke="#000" stroke-width="2.6"/>
<text x="1603.1" y="1463.7" font-size="28.7" textLength="270.24" lengthAdjust="spacingAndGlyphs">Chr19 telomeric end</text>
<text x="1534.26" y="1485.09" font-size="17.65" textLength="57.41" lengthAdjust="spacingAndGlyphs">[ 20kb]</text>
<text x="94.38" y="1534.2" font-size="25.36" textLength="221.25" lengthAdjust="spacingAndGlyphs">Wild-type ChIP/Input</text>
<text x="109.46" y="1580.8" font-size="25.36" textLength="61.88" lengthAdjust="spacingAndGlyphs" font-style="italic">Pwp1</text>
<text x="172.88" y="1568.26" font-size="14.15" textLength="26.72" lengthAdjust="spacingAndGlyphs">+/-</text>
<text x="200.68" y="1580.8" font-size="25.36" textLength="115.06" lengthAdjust="spacingAndGlyphs">ChIP/Input</text>
<text x="0.27" y="1624.5" font-size="25.36" textLength="60.83" lengthAdjust="spacingAndGlyphs" font-style="italic">Pwp1</text>
<text x="59.72" y="1611.96" font-size="14.15" textLength="25.85" lengthAdjust="spacingAndGlyphs">+/-</text>
<text x="87.9" y="1624.5" font-size="25.36" textLength="110.93" lengthAdjust="spacingAndGlyphs">OE PWP1</text>
<text x="200.68" y="1624.5" font-size="25.36" textLength="115.06" lengthAdjust="spacingAndGlyphs">ChIP/Input</text>
<text x="54.21" y="1770.9" font-size="49.52" textLength="17.48" lengthAdjust="spacingAndGlyphs" font-weight="bold">f</text>
<rect x="303.8" y="1840.8" width="240.3" height="57.1" fill="#c4c2c1"/>
<rect x="303.8" y="1912.9" width="240.3" height="57.5" fill="#c2c0bf"/>
<rect x="728.3" y="1840" width="240.3" height="56.6" fill="#d1d0d0"/>
<rect x="728.3" y="1913.4" width="240.3" height="56.7" fill="#a9a8a8"/>
<rect x="303.8" y="1840.8" width="240.3" height="57.1" fill="#000" filter="url(#noiseF)" opacity="0.1"/>
<rect x="303.8" y="1912.9" width="240.3" height="57.5" fill="#000" filter="url(#noiseF)" opacity="0.12"/>
<rect x="728.3" y="1913.4" width="240.3" height="56.7" fill="#000" filter="url(#noiseF)" opacity="0.18"/>
<g clip-path="url(#cpF)">
<ellipse cx="350" cy="1868.5" rx="40" ry="7" fill="#000" opacity="0.35" filter="url(#bl4)"/>
<ellipse cx="320" cy="1869" rx="20" ry="5" fill="#000" opacity="0.2" filter="url(#bl4)"/>
<ellipse cx="385.5" cy="1868.3" rx="9.5" ry="5" fill="#000" opacity="1" filter="url(#bl)"/>
<ellipse cx="486" cy="1868" rx="13" ry="4.25" fill="#000" opacity="0.95" filter="url(#bl)"/>
<ellipse cx="497" cy="1868" rx="20" ry="3" fill="#000" opacity="0.9" filter="url(#bl)"/>
<ellipse cx="510" cy="1868" rx="13" ry="5" fill="#000" opacity="1" filter="url(#bl)"/>
<ellipse cx="492" cy="1870" rx="35" ry="11" fill="#000" opacity="0.2" filter="url(#bl8)"/>
<ellipse cx="358" cy="1947.3" rx="23" ry="3" fill="#000" opacity="0.35" filter="url(#bl)"/>
<ellipse cx="495" cy="1946.5" rx="22" ry="3" fill="#000" opacity="0.3" filter="url(#bl)"/>
<ellipse cx="495" cy="1942" rx="35" ry="12" fill="#000" opacity="0.12" filter="url(#bl8)"/>
<ellipse cx="520.2" cy="1960" rx="6" ry="5" fill="#000" opacity="1" filter="url(#bl1)"/>
<ellipse cx="529.9" cy="1937.6" rx="3.5" ry="3.5" fill="#000" opacity="0.35" filter="url(#bl1)"/>
<path d="M750,1870 C752,1864 770,1864 790,1867 C800,1868 806,1869 806,1871 C800,1874 770,1875 752,1874 Z" fill="#000" filter="url(#bl)"/>
<ellipse cx="917" cy="1870" rx="26" ry="5" fill="#000" opacity="0.95" filter="url(#bl)"/>
<ellipse cx="917" cy="1870" rx="35" ry="9" fill="#000" opacity="0.2" filter="url(#bl4)"/>
<ellipse cx="780.5" cy="1946.4" rx="25.5" ry="6.75" fill="#000" opacity="0.85" filter="url(#bl)"/>
<ellipse cx="918" cy="1946" rx="30" ry="5" fill="#000" opacity="0.45" filter="url(#bl4)"/>
</g>
<rect x="304.65" y="1841.65" width="238.6" height="55.4" fill="none" stroke="#000" stroke-width="1.7"/>
<rect x="304.65" y="1913.75" width="238.6" height="55.8" fill="none" stroke="#000" stroke-width="1.7"/>
<rect x="729.15" y="1840.85" width="238.6" height="54.9" fill="none" stroke="#000" stroke-width="1.7"/>
<rect x="729.15" y="1914.25" width="238.6" height="55" fill="none" stroke="#000" stroke-width="1.7"/>
<text x="296.68" y="1823.9" font-size="24.49" textLength="102.35" lengthAdjust="spacingAndGlyphs">10%Input</text>
<text x="414.75" y="1823.9" font-size="24.49" textLength="40.35" lengthAdjust="spacingAndGlyphs">IgG</text>
<text x="465.75" y="1823.9" font-size="24.49" textLength="98.38" lengthAdjust="spacingAndGlyphs">IP-PWP1</text>
<text x="721.49" y="1819.4" font-size="24.35" textLength="101.84" lengthAdjust="spacingAndGlyphs">10%Input</text>
<text x="834.15" y="1819.4" font-size="24.35" textLength="40.24" lengthAdjust="spacingAndGlyphs">IgG</text>
<text x="882.71" y="1819.4" font-size="24.35" textLength="160.58" lengthAdjust="spacingAndGlyphs">IP-SUV4-20H2</text>
<text x="218.82" y="1875.9" font-size="26.38" textLength="77.28" lengthAdjust="spacingAndGlyphs">PWP1</text>
<text x="149.66" y="1948.5" font-size="26.96" textLength="146.64" lengthAdjust="spacingAndGlyphs">SUV4-20H2</text>
<text x="576.65" y="1875.2" font-size="26.67" textLength="148.07" lengthAdjust="spacingAndGlyphs">SUV4-20H2</text>
<text x="646.23" y="1949.5" font-size="26.38" textLength="76.86" lengthAdjust="spacingAndGlyphs">PWP1</text>
<text x="1221.04" y="1745.96" font-size="48.27" textLength="29.88" lengthAdjust="spacingAndGlyphs" font-weight="bold">g</text>
<line x1="1609.3" y1="1740.3" x2="1843.1" y2="1740.3" stroke="#000" stroke-width="2.2"/>
<text x="1691.75" y="1725.7" font-size="21.59" textLength="54.12" lengthAdjust="spacingAndGlyphs" font-style="italic">Pwp1</text>
<text x="1749.06" y="1716.63" font-size="17.28" textLength="22.38" lengthAdjust="spacingAndGlyphs">+/-</text>
<text x="1298.21" y="1897.2" font-size="24.49" textLength="106.74" lengthAdjust="spacingAndGlyphs">10%Input</text>
<text x="1219.03" y="1952" font-size="25.07" textLength="191.36" lengthAdjust="spacingAndGlyphs">ChIP-H4K20me3</text>
<text x="1529.55" y="1999.3" font-size="28.12" textLength="114.67" lengthAdjust="spacingAndGlyphs">TTAGGG</text>
<text transform="translate(1435.5,1852.5) rotate(-45)" x="0" y="0"><tspan font-size="22.2" dy="0">Wild-type</tspan></text>
<text transform="translate(1509,1856) rotate(-45)" x="0" y="0"><tspan font-size="22.2" font-style="italic" dy="0">Pwp1</tspan><tspan font-size="11.1" dy="0"> </tspan><tspan font-size="15.98" dy="-9">+/-</tspan></text>
<text transform="translate(1581.5,1852.5) rotate(-45)" x="0" y="0"><tspan font-size="22.2" dy="0">+PWP1</tspan></text>
<text transform="translate(1650.5,1852.5) rotate(-45)" x="0" y="0"><tspan font-size="22.2" dy="0">+SUV4-20H2</tspan></text>
<text transform="translate(1719.5,1852.5) rotate(-45)" x="0" y="0"><tspan font-size="22.2" dy="0">+PWP1&amp;</tspan></text>
<text transform="translate(1746,1862.5) rotate(-45)" x="0" y="0"><tspan font-size="22.2" dy="0">SUV4-20H2</tspan></text>
<rect x="1417.6" y="1861.4" width="311.7" height="100.4" fill="#d2cbcc"/>
<ellipse cx="1441.5" cy="1886" rx="14" ry="13.72" fill="url(#gT1)" filter="url(#bl1)"/>
<ellipse cx="1511.7" cy="1884.3" rx="13.2" ry="12.94" fill="url(#gT)" filter="url(#bl1)"/>
<ellipse cx="1579.8" cy="1884.2" rx="14.3" ry="14.01" fill="url(#gT)" filter="url(#bl1)"/>
<ellipse cx="1647.3" cy="1883.3" rx="12.6" ry="12.35" fill="url(#gT)" filter="url(#bl1)"/>
<ellipse cx="1708.2" cy="1883" rx="13.3" ry="13.03" fill="url(#gT)" filter="url(#bl1)"/>
<ellipse cx="1446.6" cy="1944.5" rx="11" ry="10.67" fill="#cbc3c6" stroke="#a496a4" stroke-width="1.1"/>
<ellipse cx="1514" cy="1940" rx="10.3" ry="9.99" fill="#cbc3c6" stroke="#a496a4" stroke-width="1.1"/>
<ellipse cx="1580.5" cy="1940" rx="10.5" ry="10.19" fill="#cbc3c6" stroke="#a496a4" stroke-width="1.1"/>
<ellipse cx="1647.6" cy="1941.3" rx="12.2" ry="11.59" fill="url(#gT)" filter="url(#bl1)"/>
<ellipse cx="1709.4" cy="1941.3" rx="12.5" ry="11.88" fill="url(#gT)" filter="url(#bl1)"/>
<rect x="1418.7" y="1862.5" width="309.5" height="98.2" fill="none" stroke="#000" stroke-width="2.2"/>
<text x="54" y="2076.5" font-size="48.28" textLength="29.65" lengthAdjust="spacingAndGlyphs" font-weight="bold">h</text>
<path d="M113.73,2378.3H116.04V2251.57H113.73ZM116.04,2378.3H118.34V2261.94H116.04ZM118.34,2378.3H120.18V2237.74H118.34ZM120.18,2378.3H122.49V2175.53H120.18ZM122.49,2378.3H126.41V2244.65H122.49ZM126.41,2378.3H128.71V2268.85H126.41ZM128.71,2378.3H131.01V2237.74H128.71ZM131.01,2378.3H134.01V2154.79H131.01ZM134.01,2378.3H136.77V2161.71H134.01ZM136.77,2378.3H139.54V2147.88H136.77ZM139.54,2378.3H141.84V2178.99H139.54ZM141.84,2378.3H144.15V2192.81H141.84ZM144.15,2378.3H146.45V2199.72H144.15ZM146.45,2378.3H151.75V2189.35H146.45ZM151.75,2378.3H154.06V2197.42H151.75ZM154.06,2378.3H156.36V2234.29H154.06ZM156.36,2378.3H159.82V2223.92H156.36ZM159.82,2378.3H163.27V2192.81H159.82ZM163.27,2378.3H166.73V2228.53H163.27ZM166.73,2378.3H170.18V2259.63H166.73ZM170.18,2378.3H172.49V2279.22H170.18ZM172.49,2378.3H175.48V2263.09H172.49ZM175.48,2378.3H178.25V2223.92H175.48ZM178.25,2378.3H181.71V2283.82H178.25ZM181.71,2378.3H184.01V2255.02H181.71ZM184.01,2378.3H187.47V2270H184.01ZM187.47,2378.3H189.77V2296.5H187.47ZM189.77,2378.3H192.07V2299.95H189.77ZM192.07,2378.3H194.38V2294.19H192.07ZM194.38,2378.3H196.68V2311.47H194.38ZM196.68,2378.3H198.99V2318.39H196.68ZM198.99,2378.3H201.29V2297.65H198.99ZM201.29,2378.3H203.59V2311.47H201.29ZM203.59,2378.3H205.9V2321.84H203.59ZM205.9,2378.3H208.2V2335.67H205.9ZM208.2,2378.3H211.66V2321.84H208.2ZM211.66,2378.3H215.12V2311.47H211.66ZM215.12,2378.3H217.42V2328.76H215.12ZM217.42,2378.3H219.72V2349.49H217.42ZM219.72,2378.3H222.03V2346.04H219.72ZM222.03,2378.3H226.64V2335.67H222.03ZM226.64,2378.3H228.94V2352.95H226.64ZM228.94,2378.3H231.24V2361.01H228.94ZM231.24,2378.3H233.55V2364.47H231.24ZM233.55,2378.3H237V2349.49H233.55ZM237,2378.3H240.46V2346.04H237ZM240.46,2378.3H243.92V2357.56H240.46ZM243.92,2378.3H247.37V2346.04H243.92ZM247.37,2378.3H250.83V2349.49H247.37ZM250.83,2378.3H254.29V2363.32H250.83ZM254.29,2378.3H257.74V2359.86H254.29ZM257.74,2378.3H260.05V2352.95H257.74ZM260.05,2378.3H263.5V2359.86H260.05ZM263.5,2378.3H269.26V2372.53H263.5ZM269.26,2378.3H279.63V2367.93H269.26ZM279.63,2378.3H288.85V2371.38H279.63ZM288.85,2378.3H307.28V2374.84H288.85ZM313.04,2378.3H324.56V2374.84H313.04ZM329.17,2378.3H331.47V2374.84H329.17ZM334.93,2378.3H337.24V2374.84H334.93ZM343,2378.3H345.3V2371.38H343ZM376.41,2378.3H378.71V2374.84H376.41Z" fill="#000"/>
<line x1="113.7" y1="2098.5" x2="113.7" y2="2379.1" stroke="#000" stroke-width="1.7"/>
<line x1="112.9" y1="2378.3" x2="405.4" y2="2378.3" stroke="#000" stroke-width="1.7"/>
<line x1="108.2" y1="2378.3" x2="113.7" y2="2378.3" stroke="#000" stroke-width="1.4"/>
<line x1="110.7" y1="2343.39" x2="113.7" y2="2343.39" stroke="#000" stroke-width="1.2"/>
<text x="98.47" y="2385.11" font-size="19.15" textLength="8.81" lengthAdjust="spacingAndGlyphs">0</text>
<line x1="108.2" y1="2308.48" x2="113.7" y2="2308.48" stroke="#000" stroke-width="1.4"/>
<line x1="110.7" y1="2273.56" x2="113.7" y2="2273.56" stroke="#000" stroke-width="1.2"/>
<text x="88.77" y="2315.28" font-size="19.15" textLength="18.56" lengthAdjust="spacingAndGlyphs">20</text>
<line x1="108.2" y1="2238.65" x2="113.7" y2="2238.65" stroke="#000" stroke-width="1.4"/>
<line x1="110.7" y1="2203.74" x2="113.7" y2="2203.74" stroke="#000" stroke-width="1.2"/>
<text x="89.28" y="2245.46" font-size="19.15" textLength="18.03" lengthAdjust="spacingAndGlyphs">40</text>
<line x1="108.2" y1="2168.82" x2="113.7" y2="2168.82" stroke="#000" stroke-width="1.4"/>
<line x1="110.7" y1="2133.91" x2="113.7" y2="2133.91" stroke="#000" stroke-width="1.2"/>
<text x="88.77" y="2175.63" font-size="19.15" textLength="18.56" lengthAdjust="spacingAndGlyphs">60</text>
<line x1="108.2" y1="2099" x2="113.7" y2="2099" stroke="#000" stroke-width="1.4"/>
<text x="88.85" y="2105.81" font-size="19.15" textLength="18.47" lengthAdjust="spacingAndGlyphs">80</text>
<line x1="113.7" y1="2378.3" x2="113.7" y2="2382.3" stroke="#000" stroke-width="1.3"/>
<text x="109.57" y="2402.41" font-size="19.15" textLength="8.81" lengthAdjust="spacingAndGlyphs">0</text>
<line x1="138.01" y1="2378.3" x2="138.01" y2="2380.9" stroke="#000" stroke-width="1.3"/>
<line x1="162.32" y1="2378.3" x2="162.32" y2="2382.3" stroke="#000" stroke-width="1.3"/>
<text x="153.41" y="2402.41" font-size="19.15" textLength="18.38" lengthAdjust="spacingAndGlyphs">50</text>
<line x1="186.62" y1="2378.3" x2="186.62" y2="2380.9" stroke="#000" stroke-width="1.3"/>
<line x1="210.93" y1="2378.3" x2="210.93" y2="2382.3" stroke="#000" stroke-width="1.3"/>
<text x="194.41" y="2402.41" font-size="19.15" textLength="27.84" lengthAdjust="spacingAndGlyphs">100</text>
<line x1="235.24" y1="2378.3" x2="235.24" y2="2380.9" stroke="#000" stroke-width="1.3"/>
<line x1="259.55" y1="2378.3" x2="259.55" y2="2382.3" stroke="#000" stroke-width="1.3"/>
<text x="245.62" y="2402.41" font-size="19.15" textLength="27.84" lengthAdjust="spacingAndGlyphs">150</text>
<line x1="283.86" y1="2378.3" x2="283.86" y2="2380.9" stroke="#000" stroke-width="1.3"/>
<line x1="308.17" y1="2378.3" x2="308.17" y2="2382.3" stroke="#000" stroke-width="1.3"/>
<text x="294.67" y="2402.41" font-size="19.15" textLength="27.4" lengthAdjust="spacingAndGlyphs">200</text>
<line x1="332.47" y1="2378.3" x2="332.47" y2="2380.9" stroke="#000" stroke-width="1.3"/>
<line x1="356.78" y1="2378.3" x2="356.78" y2="2382.3" stroke="#000" stroke-width="1.3"/>
<text x="343.29" y="2402.41" font-size="19.15" textLength="27.4" lengthAdjust="spacingAndGlyphs">250</text>
<line x1="381.09" y1="2378.3" x2="381.09" y2="2380.9" stroke="#000" stroke-width="1.3"/>
<line x1="405.4" y1="2378.3" x2="405.4" y2="2382.3" stroke="#000" stroke-width="1.3"/>
<text x="386.97" y="2402.41" font-size="19.15" textLength="27.23" lengthAdjust="spacingAndGlyphs">300</text>
<g transform="translate(80.38,2313.8) rotate(-90)"><text x="-2.8" y="0" font-size="30.11" textLength="165.29" lengthAdjust="spacingAndGlyphs">Frequency</text></g>
<path d="M479.12,2379.1H481.43V2217.83H479.12ZM481.43,2379.1H483.73V2216.68H481.43ZM483.73,2379.1H486.04V2222.44H483.73ZM486.04,2379.1H488.34V2179.82H486.04ZM488.34,2379.1H490.65V2177.51H488.34ZM490.65,2379.1H492.95V2168.29H490.65ZM492.95,2379.1H497.1V2142.95H492.95ZM497.1,2379.1H499.86V2106.08H497.1ZM499.86,2379.1H504.47V2148.71H499.86ZM504.47,2379.1H506.77V2109.54H504.47ZM506.77,2379.1H509.08V2179.82H506.77ZM509.08,2379.1H511.38V2191.34H509.08ZM511.38,2379.1H513.69V2194.79H511.38ZM513.69,2379.1H514.84V2163.69H513.69ZM514.84,2379.1H517.14V2216.68H514.84ZM517.14,2379.1H520.6V2214.38H517.14ZM520.6,2379.1H522.9V2245.48H520.6ZM522.9,2379.1H525.21V2265.07H522.9ZM525.21,2379.1H527.51V2222.44H525.21ZM527.51,2379.1H529.82V2253.55H527.51ZM529.82,2379.1H532.12V2299.63H529.82ZM532.12,2379.1H534.42V2268.53H532.12ZM534.42,2379.1H536.73V2276.59H534.42ZM536.73,2379.1H540.18V2293.87H536.73ZM540.18,2379.1H542.49V2305.39H540.18ZM542.49,2379.1H545.94V2319.22H542.49ZM545.94,2379.1H548.25V2320.37H545.94ZM548.25,2379.1H551.71V2324.98H548.25ZM551.71,2379.1H554.01V2335.35H551.71ZM554.01,2379.1H556.31V2357.24H554.01ZM556.31,2379.1H559.77V2313.46H556.31ZM559.77,2379.1H562.07V2344.56H559.77ZM562.07,2379.1H564.38V2336.5H562.07ZM564.38,2379.1H566.68V2348.02H564.38ZM566.68,2379.1H568.99V2359.54H566.68ZM568.99,2379.1H571.29V2352.63H568.99ZM571.29,2379.1H574.75V2344.56H571.29ZM574.75,2379.1H577.05V2365.3H574.75ZM577.05,2379.1H579.35V2366.45H577.05ZM579.35,2379.1H581.66V2368.76H579.35ZM581.66,2379.1H585.12V2371.06H581.66ZM585.12,2379.1H588.57V2367.6H585.12ZM588.57,2379.1H592.03V2357.24H588.57ZM592.03,2379.1H594.33V2369.91H592.03ZM594.33,2379.1H597.79V2371.06H594.33ZM597.79,2379.1H600.09V2372.21H597.79ZM600.09,2379.1H603.55V2361.84H600.09ZM603.55,2379.1H607V2371.06H603.55ZM607,2379.1H610.46V2374.52H607ZM610.46,2379.1H619.68V2373.36H610.46ZM623.13,2379.1H626.59V2375.67H623.13ZM627.74,2379.1H631.2V2371.06H627.74ZM634.65,2379.1H640.41V2374.52H634.65ZM640.41,2379.1H647.33V2376.82H640.41ZM651.94,2379.1H654.24V2376.82H651.94ZM657.7,2379.1H665.76V2376.82H657.7ZM672.67,2379.1H677.28V2376.82H672.67ZM694.56,2379.1H696.87V2376.82H694.56Z" fill="#000"/>
<line x1="479.1" y1="2094.1" x2="479.1" y2="2379.9" stroke="#000" stroke-width="1.7"/>
<line x1="478.3" y1="2379.1" x2="770.6" y2="2379.1" stroke="#000" stroke-width="1.7"/>
<line x1="473.6" y1="2379.1" x2="479.1" y2="2379.1" stroke="#000" stroke-width="1.4"/>
<line x1="476.1" y1="2350.65" x2="479.1" y2="2350.65" stroke="#000" stroke-width="1.2"/>
<text x="463.87" y="2385.91" font-size="19.15" textLength="8.81" lengthAdjust="spacingAndGlyphs">0</text>
<line x1="473.6" y1="2322.2" x2="479.1" y2="2322.2" stroke="#000" stroke-width="1.4"/>
<line x1="476.1" y1="2293.75" x2="479.1" y2="2293.75" stroke="#000" stroke-width="1.2"/>
<text x="454.17" y="2329.01" font-size="19.15" textLength="18.56" lengthAdjust="spacingAndGlyphs">20</text>
<line x1="473.6" y1="2265.3" x2="479.1" y2="2265.3" stroke="#000" stroke-width="1.4"/>
<line x1="476.1" y1="2236.85" x2="479.1" y2="2236.85" stroke="#000" stroke-width="1.2"/>
<text x="454.68" y="2272.11" font-size="19.15" textLength="18.03" lengthAdjust="spacingAndGlyphs">40</text>
<line x1="473.6" y1="2208.4" x2="479.1" y2="2208.4" stroke="#000" stroke-width="1.4"/>
<line x1="476.1" y1="2179.95" x2="479.1" y2="2179.95" stroke="#000" stroke-width="1.2"/>
<text x="454.17" y="2215.21" font-size="19.15" textLength="18.56" lengthAdjust="spacingAndGlyphs">60</text>
<line x1="473.6" y1="2151.5" x2="479.1" y2="2151.5" stroke="#000" stroke-width="1.4"/>
<line x1="476.1" y1="2123.05" x2="479.1" y2="2123.05" stroke="#000" stroke-width="1.2"/>
<text x="454.25" y="2158.31" font-size="19.15" textLength="18.47" lengthAdjust="spacingAndGlyphs">80</text>
<line x1="473.6" y1="2094.6" x2="479.1" y2="2094.6" stroke="#000" stroke-width="1.4"/>
<text x="444.9" y="2101.41" font-size="19.15" textLength="27.84" lengthAdjust="spacingAndGlyphs">100</text>
<line x1="479.1" y1="2379.1" x2="479.1" y2="2383.1" stroke="#000" stroke-width="1.3"/>
<text x="474.97" y="2402.41" font-size="19.15" textLength="8.81" lengthAdjust="spacingAndGlyphs">0</text>
<line x1="503.39" y1="2379.1" x2="503.39" y2="2381.7" stroke="#000" stroke-width="1.3"/>
<line x1="527.68" y1="2379.1" x2="527.68" y2="2383.1" stroke="#000" stroke-width="1.3"/>
<text x="518.77" y="2402.41" font-size="19.15" textLength="18.38" lengthAdjust="spacingAndGlyphs">50</text>
<line x1="551.98" y1="2379.1" x2="551.98" y2="2381.7" stroke="#000" stroke-width="1.3"/>
<line x1="576.27" y1="2379.1" x2="576.27" y2="2383.1" stroke="#000" stroke-width="1.3"/>
<text x="557.64" y="2402.41" font-size="19.15" textLength="27.84" lengthAdjust="spacingAndGlyphs">100</text>
<line x1="600.56" y1="2379.1" x2="600.56" y2="2381.7" stroke="#000" stroke-width="1.3"/>
<line x1="624.85" y1="2379.1" x2="624.85" y2="2383.1" stroke="#000" stroke-width="1.3"/>
<text x="610.92" y="2402.41" font-size="19.15" textLength="27.84" lengthAdjust="spacingAndGlyphs">150</text>
<line x1="649.14" y1="2379.1" x2="649.14" y2="2381.7" stroke="#000" stroke-width="1.3"/>
<line x1="673.43" y1="2379.1" x2="673.43" y2="2383.1" stroke="#000" stroke-width="1.3"/>
<text x="659.94" y="2402.41" font-size="19.15" textLength="27.4" lengthAdjust="spacingAndGlyphs">200</text>
<line x1="697.73" y1="2379.1" x2="697.73" y2="2381.7" stroke="#000" stroke-width="1.3"/>
<line x1="722.02" y1="2379.1" x2="722.02" y2="2383.1" stroke="#000" stroke-width="1.3"/>
<text x="708.52" y="2402.41" font-size="19.15" textLength="27.4" lengthAdjust="spacingAndGlyphs">250</text>
<line x1="746.31" y1="2379.1" x2="746.31" y2="2381.7" stroke="#000" stroke-width="1.3"/>
<line x1="770.6" y1="2379.1" x2="770.6" y2="2383.1" stroke="#000" stroke-width="1.3"/>
<text x="749.97" y="2402.41" font-size="19.15" textLength="27.23" lengthAdjust="spacingAndGlyphs">300</text>
<g transform="translate(444.58,2312.3) rotate(-90)"><text x="-2.82" y="0" font-size="30.11" textLength="166.41" lengthAdjust="spacingAndGlyphs">Frequency</text></g>
<path d="M861.89,2380.3H863.27V2239.72H861.89ZM863.27,2380.3H866.04V2240.88H863.27ZM866.04,2380.3H867.88V2245.48H866.04ZM867.88,2380.3H870.65V2178.66H867.88ZM870.65,2380.3H872.95V2228.2H870.65ZM872.95,2380.3H877.1V2163.69H872.95ZM877.1,2380.3H881.71V2130.28H877.1ZM881.71,2380.3H883.32V2183.27H881.71ZM883.32,2380.3H886.77V2124.52H883.32ZM886.77,2380.3H890.23V2109.54H886.77ZM890.23,2380.3H893.69V2104.93H890.23ZM893.69,2380.3H895.99V2136.04H893.69ZM895.99,2380.3H899.45V2144.1H895.99ZM899.45,2380.3H901.75V2163.69H899.45ZM901.75,2380.3H904.06V2180.97H901.75ZM904.06,2380.3H906.36V2206.31H904.06ZM906.36,2380.3H909.82V2198.25H906.36ZM909.82,2380.3H912.12V2246.64H909.82ZM912.12,2380.3H915.58V2248.94H912.12ZM915.58,2380.3H919.03V2295.02H915.58ZM919.03,2380.3H922.49V2316.91H919.03ZM922.49,2380.3H925.94V2320.37H922.49ZM925.94,2380.3H928.25V2331.89H925.94ZM928.25,2380.3H930.55V2322.67H928.25ZM930.55,2380.3H933.32V2311.15H930.55ZM933.32,2380.3H935.62V2357.24H933.32ZM935.62,2380.3H937.47V2339.95H935.62ZM937.47,2380.3H940.92V2331.89H937.47ZM940.92,2380.3H943.23V2353.78H940.92ZM943.23,2380.3H946.22V2357.24H943.23ZM946.22,2380.3H948.99V2348.02H946.22ZM948.99,2380.3H951.29V2365.3H948.99ZM951.29,2380.3H955.9V2367.6H951.29ZM955.9,2380.3H959.35V2359.54H955.9ZM959.35,2380.3H962.81V2368.76H959.35ZM962.81,2380.3H965.58V2372.21H962.81ZM965.58,2380.3H968.57V2359.54H965.58ZM968.57,2380.3H972.03V2376.82H968.57ZM972.03,2380.3H978.94V2373.82H972.03ZM983.55,2380.3H987V2373.82H983.55ZM989.31,2380.3H992.76V2373.82H989.31ZM995.07,2380.3H998.53V2373.82H995.07ZM1005.44,2380.3H1010.05V2376.82H1005.44Z" fill="#000"/>
<line x1="861.9" y1="2095.2" x2="861.9" y2="2381.1" stroke="#000" stroke-width="1.7"/>
<line x1="861.1" y1="2380.3" x2="1157.5" y2="2380.3" stroke="#000" stroke-width="1.7"/>
<line x1="856.4" y1="2380.3" x2="861.9" y2="2380.3" stroke="#000" stroke-width="1.4"/>
<line x1="858.9" y1="2351.84" x2="861.9" y2="2351.84" stroke="#000" stroke-width="1.2"/>
<text x="846.67" y="2387.11" font-size="19.15" textLength="8.81" lengthAdjust="spacingAndGlyphs">0</text>
<line x1="856.4" y1="2323.38" x2="861.9" y2="2323.38" stroke="#000" stroke-width="1.4"/>
<line x1="858.9" y1="2294.92" x2="861.9" y2="2294.92" stroke="#000" stroke-width="1.2"/>
<text x="836.97" y="2330.19" font-size="19.15" textLength="18.56" lengthAdjust="spacingAndGlyphs">20</text>
<line x1="856.4" y1="2266.46" x2="861.9" y2="2266.46" stroke="#000" stroke-width="1.4"/>
<line x1="858.9" y1="2238" x2="861.9" y2="2238" stroke="#000" stroke-width="1.2"/>
<text x="837.48" y="2273.27" font-size="19.15" textLength="18.03" lengthAdjust="spacingAndGlyphs">40</text>
<line x1="856.4" y1="2209.54" x2="861.9" y2="2209.54" stroke="#000" stroke-width="1.4"/>
<line x1="858.9" y1="2181.08" x2="861.9" y2="2181.08" stroke="#000" stroke-width="1.2"/>
<text x="836.97" y="2216.35" font-size="19.15" textLength="18.56" lengthAdjust="spacingAndGlyphs">60</text>
<line x1="856.4" y1="2152.62" x2="861.9" y2="2152.62" stroke="#000" stroke-width="1.4"/>
<line x1="858.9" y1="2124.16" x2="861.9" y2="2124.16" stroke="#000" stroke-width="1.2"/>
<text x="837.05" y="2159.43" font-size="19.15" textLength="18.47" lengthAdjust="spacingAndGlyphs">80</text>
<line x1="856.4" y1="2095.7" x2="861.9" y2="2095.7" stroke="#000" stroke-width="1.4"/>
<text x="827.7" y="2102.51" font-size="19.15" textLength="27.84" lengthAdjust="spacingAndGlyphs">100</text>
<line x1="861.9" y1="2380.3" x2="861.9" y2="2384.3" stroke="#000" stroke-width="1.3"/>
<text x="857.77" y="2402.41" font-size="19.15" textLength="8.81" lengthAdjust="spacingAndGlyphs">0</text>
<line x1="886.53" y1="2380.3" x2="886.53" y2="2382.9" stroke="#000" stroke-width="1.3"/>
<line x1="911.17" y1="2380.3" x2="911.17" y2="2384.3" stroke="#000" stroke-width="1.3"/>
<text x="902.26" y="2402.41" font-size="19.15" textLength="18.38" lengthAdjust="spacingAndGlyphs">50</text>
<line x1="935.8" y1="2380.3" x2="935.8" y2="2382.9" stroke="#000" stroke-width="1.3"/>
<line x1="960.43" y1="2380.3" x2="960.43" y2="2384.3" stroke="#000" stroke-width="1.3"/>
<text x="944.61" y="2402.41" font-size="19.15" textLength="27.84" lengthAdjust="spacingAndGlyphs">100</text>
<line x1="985.07" y1="2380.3" x2="985.07" y2="2382.9" stroke="#000" stroke-width="1.3"/>
<line x1="1009.7" y1="2380.3" x2="1009.7" y2="2384.3" stroke="#000" stroke-width="1.3"/>
<text x="995.77" y="2402.41" font-size="19.15" textLength="27.84" lengthAdjust="spacingAndGlyphs">150</text>
<line x1="1034.33" y1="2380.3" x2="1034.33" y2="2382.9" stroke="#000" stroke-width="1.3"/>
<line x1="1058.97" y1="2380.3" x2="1058.97" y2="2384.3" stroke="#000" stroke-width="1.3"/>
<text x="1045.47" y="2402.41" font-size="19.15" textLength="27.4" lengthAdjust="spacingAndGlyphs">200</text>
<line x1="1083.6" y1="2380.3" x2="1083.6" y2="2382.9" stroke="#000" stroke-width="1.3"/>
<line x1="1108.23" y1="2380.3" x2="1108.23" y2="2384.3" stroke="#000" stroke-width="1.3"/>
<text x="1094.74" y="2402.41" font-size="19.15" textLength="27.4" lengthAdjust="spacingAndGlyphs">250</text>
<line x1="1132.87" y1="2380.3" x2="1132.87" y2="2382.9" stroke="#000" stroke-width="1.3"/>
<line x1="1157.5" y1="2380.3" x2="1157.5" y2="2384.3" stroke="#000" stroke-width="1.3"/>
<text x="1135.87" y="2402.41" font-size="19.15" textLength="27.23" lengthAdjust="spacingAndGlyphs">300</text>
<g transform="translate(826.88,2314.6) rotate(-90)"><text x="-2.82" y="0" font-size="30.11" textLength="166.41" lengthAdjust="spacingAndGlyphs">Frequency</text></g>
<path d="M1226.82,2379.8H1229.12V2308.85H1226.82ZM1229.12,2379.8H1232.58V2267.37H1229.12ZM1232.58,2379.8H1234.88V2292.72H1232.58ZM1234.88,2379.8H1237.19V2271.98H1234.88ZM1237.19,2379.8H1239.49V2250.09H1237.19ZM1239.49,2379.8H1242.95V2200.55H1239.49ZM1242.95,2379.8H1245.25V2197.1H1242.95ZM1245.25,2379.8H1251.01V2167.14H1245.25ZM1251.01,2379.8H1254.01V2130.28H1251.01ZM1254.01,2379.8H1256.77V2146.41H1254.01ZM1256.77,2379.8H1260.23V2137.19H1256.77ZM1260.23,2379.8H1262.53V2139.49H1260.23ZM1262.53,2379.8H1265.99V2153.32H1262.53ZM1265.99,2379.8H1268.29V2164.84H1265.99ZM1268.29,2379.8H1271.75V2198.25H1268.29ZM1271.75,2379.8H1275.21V2222.44H1271.75ZM1275.21,2379.8H1277.51V2239.72H1275.21ZM1277.51,2379.8H1280.97V2238.57H1277.51ZM1280.97,2379.8H1284.42V2289.26H1280.97ZM1284.42,2379.8H1286.73V2291.57H1284.42ZM1286.73,2379.8H1289.03V2313.46H1286.73ZM1289.03,2379.8H1294.79V2327.28H1289.03ZM1294.79,2379.8H1298.25V2334.19H1294.79ZM1298.25,2379.8H1299.4V2344.56H1298.25ZM1299.4,2379.8H1306.31V2356.08H1299.4ZM1306.31,2379.8H1309.77V2360.69H1306.31ZM1309.77,2379.8H1312.07V2372.21H1309.77ZM1312.07,2379.8H1315.53V2368.76H1312.07ZM1315.53,2379.8H1318.99V2365.3H1315.53ZM1318.99,2379.8H1328.2V2375.67H1318.99ZM1328.2,2379.8H1332.81V2377.97H1328.2ZM1333.96,2379.8H1339.72V2375.67H1333.96ZM1344.33,2379.8H1348.94V2375.67H1344.33ZM1358.16,2379.8H1361.61V2377.97H1358.16ZM1368.53,2379.8H1371.98V2374.52H1368.53Z" fill="#000"/>
<line x1="1226.8" y1="2094.1" x2="1226.8" y2="2380.6" stroke="#000" stroke-width="1.7"/>
<line x1="1226" y1="2379.8" x2="1516" y2="2379.8" stroke="#000" stroke-width="1.7"/>
<line x1="1221.3" y1="2379.8" x2="1226.8" y2="2379.8" stroke="#000" stroke-width="1.4"/>
<line x1="1223.8" y1="2344.15" x2="1226.8" y2="2344.15" stroke="#000" stroke-width="1.2"/>
<text x="1211.57" y="2386.61" font-size="19.15" textLength="8.81" lengthAdjust="spacingAndGlyphs">0</text>
<line x1="1221.3" y1="2308.5" x2="1226.8" y2="2308.5" stroke="#000" stroke-width="1.4"/>
<line x1="1223.8" y1="2272.85" x2="1226.8" y2="2272.85" stroke="#000" stroke-width="1.2"/>
<text x="1202.04" y="2315.31" font-size="19.15" textLength="18.38" lengthAdjust="spacingAndGlyphs">30</text>
<line x1="1221.3" y1="2237.2" x2="1226.8" y2="2237.2" stroke="#000" stroke-width="1.4"/>
<line x1="1223.8" y1="2201.55" x2="1226.8" y2="2201.55" stroke="#000" stroke-width="1.2"/>
<text x="1201.87" y="2244.01" font-size="19.15" textLength="18.56" lengthAdjust="spacingAndGlyphs">60</text>
<line x1="1221.3" y1="2165.9" x2="1226.8" y2="2165.9" stroke="#000" stroke-width="1.4"/>
<line x1="1223.8" y1="2130.25" x2="1226.8" y2="2130.25" stroke="#000" stroke-width="1.2"/>
<text x="1201.95" y="2172.71" font-size="19.15" textLength="18.47" lengthAdjust="spacingAndGlyphs">90</text>
<line x1="1221.3" y1="2094.6" x2="1226.8" y2="2094.6" stroke="#000" stroke-width="1.4"/>
<text x="1192.6" y="2101.41" font-size="19.15" textLength="27.84" lengthAdjust="spacingAndGlyphs">120</text>
<line x1="1226.8" y1="2379.8" x2="1226.8" y2="2383.8" stroke="#000" stroke-width="1.3"/>
<text x="1222.67" y="2402.41" font-size="19.15" textLength="8.81" lengthAdjust="spacingAndGlyphs">0</text>
<line x1="1250.9" y1="2379.8" x2="1250.9" y2="2382.4" stroke="#000" stroke-width="1.3"/>
<line x1="1275" y1="2379.8" x2="1275" y2="2383.8" stroke="#000" stroke-width="1.3"/>
<text x="1266.09" y="2402.41" font-size="19.15" textLength="18.38" lengthAdjust="spacingAndGlyphs">50</text>
<line x1="1299.1" y1="2379.8" x2="1299.1" y2="2382.4" stroke="#000" stroke-width="1.3"/>
<line x1="1323.2" y1="2379.8" x2="1323.2" y2="2383.8" stroke="#000" stroke-width="1.3"/>
<text x="1304.17" y="2402.41" font-size="19.15" textLength="27.84" lengthAdjust="spacingAndGlyphs">100</text>
<line x1="1347.3" y1="2379.8" x2="1347.3" y2="2382.4" stroke="#000" stroke-width="1.3"/>
<line x1="1371.4" y1="2379.8" x2="1371.4" y2="2383.8" stroke="#000" stroke-width="1.3"/>
<text x="1357.47" y="2402.41" font-size="19.15" textLength="27.84" lengthAdjust="spacingAndGlyphs">150</text>
<line x1="1395.5" y1="2379.8" x2="1395.5" y2="2382.4" stroke="#000" stroke-width="1.3"/>
<line x1="1419.6" y1="2379.8" x2="1419.6" y2="2383.8" stroke="#000" stroke-width="1.3"/>
<text x="1406.1" y="2402.41" font-size="19.15" textLength="27.4" lengthAdjust="spacingAndGlyphs">200</text>
<line x1="1443.7" y1="2379.8" x2="1443.7" y2="2382.4" stroke="#000" stroke-width="1.3"/>
<line x1="1467.8" y1="2379.8" x2="1467.8" y2="2383.8" stroke="#000" stroke-width="1.3"/>
<text x="1454.3" y="2402.41" font-size="19.15" textLength="27.4" lengthAdjust="spacingAndGlyphs">250</text>
<line x1="1491.9" y1="2379.8" x2="1491.9" y2="2382.4" stroke="#000" stroke-width="1.3"/>
<line x1="1516" y1="2379.8" x2="1516" y2="2383.8" stroke="#000" stroke-width="1.3"/>
<text x="1497.77" y="2402.41" font-size="19.15" textLength="27.23" lengthAdjust="spacingAndGlyphs">300</text>
<g transform="translate(1192.28,2314.6) rotate(-90)"><text x="-2.8" y="0" font-size="30.11" textLength="165.19" lengthAdjust="spacingAndGlyphs">Frequency</text></g>
<path d="M1594.57,2379.6H1600.49V2248.32H1594.57ZM1600.49,2379.6H1603.18V2245.63H1600.49ZM1603.18,2379.6H1606.67V2237.56H1603.18ZM1606.67,2379.6H1608.56V2272.54H1606.67ZM1608.56,2379.6H1610.71V2279.26H1608.56ZM1610.71,2379.6H1613.4V2237.56H1610.71ZM1613.4,2379.6H1615.55V2233.53H1613.4ZM1615.55,2379.6H1621.47V2220.08H1615.55ZM1621.47,2379.6H1624.7V2170.3H1621.47ZM1624.7,2379.6H1627.39V2198.55H1624.7ZM1627.39,2379.6H1632.23V2202.59H1627.39ZM1632.23,2379.6H1634.92V2187.79H1632.23ZM1634.92,2379.6H1638.15V2163.58H1634.92ZM1638.15,2379.6H1641.65V2198.55H1638.15ZM1641.65,2379.6H1644.34V2202.59H1641.65ZM1644.34,2379.6H1647.03V2209.31H1644.34ZM1647.03,2379.6H1649.72V2233.53H1647.03ZM1649.72,2379.6H1652.41V2229.49H1649.72ZM1652.41,2379.6H1655.1V2226.8H1652.41ZM1655.1,2379.6H1657.79V2232.18H1655.1ZM1657.79,2379.6H1660.48V2244.29H1657.79ZM1660.48,2379.6H1667.21V2255.86H1660.48ZM1667.21,2379.6H1669.9V2226.8H1667.21ZM1669.9,2379.6H1672.59V2230.84H1669.9ZM1672.59,2379.6H1675.28V2290.02H1672.59ZM1675.28,2379.6H1677.97V2265.81H1675.28ZM1677.97,2379.6H1681.2V2272.54H1677.97ZM1681.2,2379.6H1683.35V2333.07H1681.2ZM1683.35,2379.6H1686.04V2302.13H1683.35ZM1686.04,2379.6H1688.73V2311.55H1686.04ZM1688.73,2379.6H1691.42V2314.24H1688.73ZM1691.42,2379.6H1694.11V2319.62H1691.42ZM1694.11,2379.6H1696.8V2339.8H1694.11ZM1696.8,2379.6H1699.49V2346.52H1696.8ZM1699.49,2379.6H1702.18V2319.62H1699.49ZM1702.18,2379.6H1704.87V2342.49H1702.18ZM1704.87,2379.6H1707.56V2346.52H1704.87ZM1707.56,2379.6H1710.25V2341.14H1707.56ZM1710.25,2379.6H1712.94V2347.87H1710.25ZM1712.94,2379.6H1715.63V2365.35H1712.94ZM1715.63,2379.6H1718.32V2358.63H1715.63ZM1718.32,2379.6H1723.7V2354.59H1718.32ZM1723.7,2379.6H1726.39V2365.35H1723.7ZM1726.39,2379.6H1731.78V2368.04H1726.39ZM1731.78,2379.6H1735.81V2365.35H1731.78ZM1735.81,2379.6H1739.85V2372.08H1735.81ZM1739.85,2379.6H1743.88V2368.85H1739.85ZM1743.88,2379.6H1747.92V2376.12H1743.88ZM1747.92,2379.6H1751.95V2372.08H1747.92ZM1754.64,2379.6H1758.68V2372.08H1754.64ZM1760.02,2379.6H1762.71V2368.85H1760.02ZM1764.06,2379.6H1766.75V2375.31H1764.06ZM1768.1,2379.6H1770.79V2372.62H1768.1ZM1776.17,2379.6H1778.86V2376.12H1776.17ZM1784.24,2379.6H1786.93V2376.12H1784.24ZM1801.72,2379.6H1804.41V2376.12H1801.72ZM1838.04,2379.6H1844.77V2376.12H1838.04ZM1858.22,2379.6H1860.91V2376.12H1858.22ZM1863.6,2379.6H1866.29V2376.12H1863.6Z" fill="#000"/>
<line x1="1594.6" y1="2094.5" x2="1594.6" y2="2380.4" stroke="#000" stroke-width="1.7"/>
<line x1="1593.8" y1="2379.6" x2="1887.8" y2="2379.6" stroke="#000" stroke-width="1.7"/>
<line x1="1589.1" y1="2379.6" x2="1594.6" y2="2379.6" stroke="#000" stroke-width="1.4"/>
<line x1="1591.6" y1="2344.03" x2="1594.6" y2="2344.03" stroke="#000" stroke-width="1.2"/>
<text x="1579.37" y="2386.41" font-size="19.15" textLength="8.81" lengthAdjust="spacingAndGlyphs">0</text>
<line x1="1589.1" y1="2308.45" x2="1594.6" y2="2308.45" stroke="#000" stroke-width="1.4"/>
<line x1="1591.6" y1="2272.88" x2="1594.6" y2="2272.88" stroke="#000" stroke-width="1.2"/>
<text x="1569.67" y="2315.26" font-size="19.15" textLength="18.56" lengthAdjust="spacingAndGlyphs">20</text>
<line x1="1589.1" y1="2237.3" x2="1594.6" y2="2237.3" stroke="#000" stroke-width="1.4"/>
<line x1="1591.6" y1="2201.73" x2="1594.6" y2="2201.73" stroke="#000" stroke-width="1.2"/>
<text x="1570.18" y="2244.11" font-size="19.15" textLength="18.03" lengthAdjust="spacingAndGlyphs">40</text>
<line x1="1589.1" y1="2166.15" x2="1594.6" y2="2166.15" stroke="#000" stroke-width="1.4"/>
<line x1="1591.6" y1="2130.58" x2="1594.6" y2="2130.58" stroke="#000" stroke-width="1.2"/>
<text x="1569.67" y="2172.96" font-size="19.15" textLength="18.56" lengthAdjust="spacingAndGlyphs">60</text>
<line x1="1589.1" y1="2095" x2="1594.6" y2="2095" stroke="#000" stroke-width="1.4"/>
<text x="1569.75" y="2101.81" font-size="19.15" textLength="18.47" lengthAdjust="spacingAndGlyphs">80</text>
<line x1="1594.6" y1="2379.6" x2="1594.6" y2="2383.6" stroke="#000" stroke-width="1.3"/>
<text x="1590.47" y="2402.41" font-size="19.15" textLength="8.81" lengthAdjust="spacingAndGlyphs">0</text>
<line x1="1619.03" y1="2379.6" x2="1619.03" y2="2382.2" stroke="#000" stroke-width="1.3"/>
<line x1="1643.47" y1="2379.6" x2="1643.47" y2="2383.6" stroke="#000" stroke-width="1.3"/>
<text x="1634.56" y="2402.41" font-size="19.15" textLength="18.38" lengthAdjust="spacingAndGlyphs">50</text>
<line x1="1667.9" y1="2379.6" x2="1667.9" y2="2382.2" stroke="#000" stroke-width="1.3"/>
<line x1="1692.33" y1="2379.6" x2="1692.33" y2="2383.6" stroke="#000" stroke-width="1.3"/>
<text x="1673.51" y="2402.41" font-size="19.15" textLength="27.84" lengthAdjust="spacingAndGlyphs">100</text>
<line x1="1716.77" y1="2379.6" x2="1716.77" y2="2382.2" stroke="#000" stroke-width="1.3"/>
<line x1="1741.2" y1="2379.6" x2="1741.2" y2="2383.6" stroke="#000" stroke-width="1.3"/>
<text x="1727.27" y="2402.41" font-size="19.15" textLength="27.84" lengthAdjust="spacingAndGlyphs">150</text>
<line x1="1765.63" y1="2379.6" x2="1765.63" y2="2382.2" stroke="#000" stroke-width="1.3"/>
<line x1="1790.07" y1="2379.6" x2="1790.07" y2="2383.6" stroke="#000" stroke-width="1.3"/>
<text x="1776.57" y="2402.41" font-size="19.15" textLength="27.4" lengthAdjust="spacingAndGlyphs">200</text>
<line x1="1814.5" y1="2379.6" x2="1814.5" y2="2382.2" stroke="#000" stroke-width="1.3"/>
<line x1="1838.93" y1="2379.6" x2="1838.93" y2="2383.6" stroke="#000" stroke-width="1.3"/>
<text x="1825.44" y="2402.41" font-size="19.15" textLength="27.4" lengthAdjust="spacingAndGlyphs">250</text>
<line x1="1863.37" y1="2379.6" x2="1863.37" y2="2382.2" stroke="#000" stroke-width="1.3"/>
<line x1="1887.8" y1="2379.6" x2="1887.8" y2="2383.6" stroke="#000" stroke-width="1.3"/>
<text x="1874.87" y="2402.41" font-size="19.15" textLength="27.23" lengthAdjust="spacingAndGlyphs">300</text>
<g transform="translate(1561.58,2314.2) rotate(-90)"><text x="-2.78" y="0" font-size="30.11" textLength="164.17" lengthAdjust="spacingAndGlyphs">Frequency</text></g>
<text x="221.86" y="2135.2" font-size="24.93" textLength="118.39" lengthAdjust="spacingAndGlyphs">Wild-type</text>
<text x="196.83" y="2212.58" font-size="21.69" textLength="162.16" lengthAdjust="spacingAndGlyphs">52.52 ± 0.8805</text>
<g transform="translate(604.52,2133.7) scale(1.17,1)"><text x="0" y="0" font-size="24.93" font-style="italic">Pwp1</text><text x="62.36" y="-10" font-size="16.45">+/-</text></g>
<text x="550.03" y="2212.28" font-size="21.69" textLength="161.66" lengthAdjust="spacingAndGlyphs">37.78 ± 0.6315</text>
<g transform="translate(941.1,2134.9) scale(1.2,1)"><text x="0" y="0" font-size="24.93" font-style="italic">Pwp1</text><text x="62.36" y="-10" font-size="16.45">+/-</text></g>
<text x="1043.26" y="2134.9" font-size="24.93" textLength="125.93" lengthAdjust="spacingAndGlyphs">OE PWP1</text>
<text x="927.23" y="2213.38" font-size="21.69" textLength="160.82" lengthAdjust="spacingAndGlyphs">33.93 ± 0.4840</text>
<g transform="translate(1307.72,2136) scale(1.17,1)"><text x="0" y="0" font-size="24.93" font-style="italic">Pwp1</text><text x="62.36" y="-10" font-size="16.45">+/-</text></g>
<text x="1306.22" y="2175.2" font-size="24.93" textLength="200.77" lengthAdjust="spacingAndGlyphs">OE SUV4-20H2</text>
<text x="1302.33" y="2215.68" font-size="21.69" textLength="161.78" lengthAdjust="spacingAndGlyphs">36.02 ± 0.4249</text>
<g transform="translate(1683.83,2133.2) scale(1.17,1)"><text x="0" y="0" font-size="24.93" font-style="italic">Pwp1</text><text x="62.36" y="-10" font-size="16.45">+/-</text></g>
<text x="1682.12" y="2174.3" font-size="24.93" textLength="315.81" lengthAdjust="spacingAndGlyphs">OE PWP1 &amp; SUV4-20H2</text>
<text x="1682.44" y="2213.48" font-size="21.69" textLength="160.79" lengthAdjust="spacingAndGlyphs">53.34 ± 0.7667</text>
<text x="729.66" y="2221.29" font-size="31.43" textLength="49.56" lengthAdjust="spacingAndGlyphs">***</text>
<text x="1107.38" y="2222.39" font-size="31.43" textLength="48.34" lengthAdjust="spacingAndGlyphs">***</text>
<text x="1478.38" y="2224.69" font-size="31.43" textLength="48.54" lengthAdjust="spacingAndGlyphs">***</text>
<text x="1857.37" y="2212" font-size="16.91" textLength="36.74" lengthAdjust="spacingAndGlyphs" font-weight="bold">###</text>
<text x="718.04" y="2439" font-size="27.25" textLength="633.12" lengthAdjust="spacingAndGlyphs">Relative telomere fluorescence intensity (TFU)</text></svg></body></html>
